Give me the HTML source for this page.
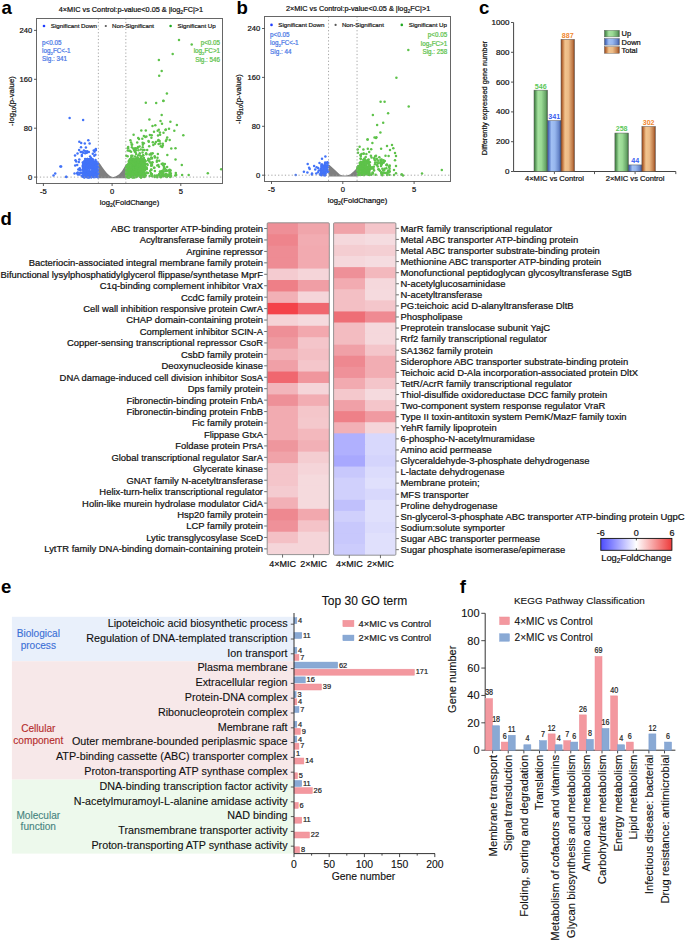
<!DOCTYPE html>
<html><head><meta charset="utf-8"><style>
html,body{margin:0;padding:0;background:#fff;}
body{width:685px;height:941px;overflow:hidden;}
svg{display:block;font-family:"Liberation Sans", sans-serif;}
</style></head><body>
<svg width="685" height="941" viewBox="0 0 685 941">
<rect width="685" height="941" fill="#fff"/>
<text x="1.50" y="13.60" font-size="18.6" fill="#000"  text-anchor="start" font-weight="bold" >a</text>
<text x="236.50" y="13.60" font-size="18.6" fill="#000"  text-anchor="start" font-weight="bold" >b</text>
<text x="479.00" y="13.60" font-size="18.6" fill="#000"  text-anchor="start" font-weight="bold" >c</text>
<text x="0.50" y="224.50" font-size="18.6" fill="#000"  text-anchor="start" font-weight="bold" >d</text>
<text x="1.00" y="592.50" font-size="18.6" fill="#000"  text-anchor="start" font-weight="bold" >e</text>
<text x="459.80" y="592.70" font-size="18.6" fill="#000"  text-anchor="start" font-weight="bold" >f</text>
<clipPath id="ca"><rect x="36.5" y="18.5" width="186.0" height="165.0"/></clipPath>
<g clip-path="url(#ca)">
<path d="M98.2,178.2 L98.2,161.6 L100.2,164.0 L102.4,167.2 L104.6,170.3 L107,173.2 L109.5,175.6 L112.3,177.2 L115.5,176.4 L119.2,174.2 L122,171.0 L124.7,166.6 L126.3,163.4 L126.3,178.2 Z" fill="#7f7f7f"/>
<g fill="#7f7f7f">
</g>
<g fill="#4273f8">
<circle cx="87.6" cy="170.9" r="1.25"/>
<circle cx="83.6" cy="167.8" r="1.25"/>
<circle cx="83.4" cy="162.9" r="1.25"/>
<circle cx="89.3" cy="159.6" r="1.25"/>
<circle cx="89.2" cy="161.9" r="1.25"/>
<circle cx="86.0" cy="176.7" r="1.25"/>
<circle cx="91.6" cy="177.1" r="1.25"/>
<circle cx="83.2" cy="167.5" r="1.25"/>
<circle cx="84.8" cy="165.5" r="1.25"/>
<circle cx="95.3" cy="170.1" r="1.25"/>
<circle cx="92.5" cy="169.1" r="1.25"/>
<circle cx="83.5" cy="164.5" r="1.25"/>
<circle cx="93.2" cy="164.9" r="1.25"/>
<circle cx="91.7" cy="164.4" r="1.25"/>
<circle cx="95.0" cy="164.8" r="1.25"/>
<circle cx="91.5" cy="175.3" r="1.25"/>
<circle cx="94.0" cy="177.2" r="1.25"/>
<circle cx="84.4" cy="173.6" r="1.25"/>
<circle cx="84.9" cy="161.6" r="1.25"/>
<circle cx="93.0" cy="170.0" r="1.25"/>
<circle cx="96.2" cy="172.4" r="1.25"/>
<circle cx="91.8" cy="167.5" r="1.25"/>
<circle cx="95.7" cy="169.3" r="1.25"/>
<circle cx="92.9" cy="171.8" r="1.25"/>
<circle cx="92.7" cy="174.5" r="1.25"/>
<circle cx="87.0" cy="171.6" r="1.25"/>
<circle cx="82.9" cy="165.3" r="1.25"/>
<circle cx="84.3" cy="173.6" r="1.25"/>
<circle cx="84.5" cy="167.3" r="1.25"/>
<circle cx="96.2" cy="167.9" r="1.25"/>
<circle cx="91.1" cy="174.4" r="1.25"/>
<circle cx="96.1" cy="167.5" r="1.25"/>
<circle cx="88.1" cy="176.9" r="1.25"/>
<circle cx="84.9" cy="164.2" r="1.25"/>
<circle cx="86.2" cy="170.4" r="1.25"/>
<circle cx="86.6" cy="166.5" r="1.25"/>
<circle cx="88.3" cy="176.7" r="1.25"/>
<circle cx="93.3" cy="170.6" r="1.25"/>
<circle cx="93.1" cy="175.6" r="1.25"/>
<circle cx="94.7" cy="174.2" r="1.25"/>
<circle cx="88.7" cy="160.7" r="1.25"/>
<circle cx="92.5" cy="159.3" r="1.25"/>
<circle cx="85.8" cy="165.6" r="1.25"/>
<circle cx="83.3" cy="163.6" r="1.25"/>
<circle cx="84.1" cy="161.7" r="1.25"/>
<circle cx="96.2" cy="163.8" r="1.25"/>
<circle cx="86.5" cy="166.1" r="1.25"/>
<circle cx="84.4" cy="177.5" r="1.25"/>
<circle cx="89.8" cy="160.4" r="1.25"/>
<circle cx="84.1" cy="165.6" r="1.25"/>
<circle cx="95.5" cy="160.1" r="1.25"/>
<circle cx="97.4" cy="164.5" r="1.25"/>
<circle cx="91.0" cy="168.2" r="1.25"/>
<circle cx="97.9" cy="173.3" r="1.25"/>
<circle cx="86.6" cy="162.5" r="1.25"/>
<circle cx="94.6" cy="173.7" r="1.25"/>
<circle cx="87.7" cy="174.0" r="1.25"/>
<circle cx="98.0" cy="174.9" r="1.25"/>
<circle cx="95.3" cy="164.8" r="1.25"/>
<circle cx="90.6" cy="158.9" r="1.25"/>
<circle cx="82.9" cy="166.2" r="1.25"/>
<circle cx="93.4" cy="168.1" r="1.25"/>
<circle cx="97.2" cy="176.9" r="1.25"/>
<circle cx="88.2" cy="162.8" r="1.25"/>
<circle cx="85.6" cy="170.9" r="1.25"/>
<circle cx="96.6" cy="169.6" r="1.25"/>
<circle cx="92.8" cy="161.4" r="1.25"/>
<circle cx="92.9" cy="173.8" r="1.25"/>
<circle cx="94.3" cy="162.9" r="1.25"/>
<circle cx="94.9" cy="174.0" r="1.25"/>
<circle cx="97.8" cy="168.4" r="1.25"/>
<circle cx="97.4" cy="165.2" r="1.25"/>
<circle cx="84.5" cy="176.0" r="1.25"/>
<circle cx="95.2" cy="174.4" r="1.25"/>
<circle cx="97.9" cy="168.1" r="1.25"/>
<circle cx="91.1" cy="158.1" r="1.25"/>
<circle cx="97.7" cy="170.6" r="1.25"/>
<circle cx="97.2" cy="175.6" r="1.25"/>
<circle cx="95.5" cy="164.3" r="1.25"/>
<circle cx="87.1" cy="169.9" r="1.25"/>
<circle cx="86.6" cy="162.0" r="1.25"/>
<circle cx="96.8" cy="168.7" r="1.25"/>
<circle cx="91.7" cy="167.3" r="1.25"/>
<circle cx="96.9" cy="170.1" r="1.25"/>
<circle cx="90.7" cy="166.4" r="1.25"/>
<circle cx="85.4" cy="173.9" r="1.25"/>
<circle cx="85.2" cy="172.9" r="1.25"/>
<circle cx="91.2" cy="168.3" r="1.25"/>
<circle cx="91.2" cy="161.4" r="1.25"/>
<circle cx="91.3" cy="163.5" r="1.25"/>
<circle cx="94.6" cy="169.9" r="1.25"/>
<circle cx="94.4" cy="168.3" r="1.25"/>
<circle cx="92.1" cy="168.5" r="1.25"/>
<circle cx="93.4" cy="169.0" r="1.25"/>
<circle cx="90.0" cy="172.3" r="1.25"/>
<circle cx="96.3" cy="166.2" r="1.25"/>
<circle cx="91.3" cy="174.8" r="1.25"/>
<circle cx="84.7" cy="167.9" r="1.25"/>
<circle cx="83.6" cy="162.6" r="1.25"/>
<circle cx="93.0" cy="175.8" r="1.25"/>
<circle cx="84.9" cy="172.1" r="1.25"/>
<circle cx="84.7" cy="177.1" r="1.25"/>
<circle cx="85.9" cy="167.8" r="1.25"/>
<circle cx="90.1" cy="174.6" r="1.25"/>
<circle cx="85.0" cy="169.4" r="1.25"/>
<circle cx="87.8" cy="164.6" r="1.25"/>
<circle cx="93.8" cy="169.0" r="1.25"/>
<circle cx="89.4" cy="164.2" r="1.25"/>
<circle cx="92.3" cy="160.2" r="1.25"/>
<circle cx="98.0" cy="177.2" r="1.25"/>
<circle cx="84.1" cy="161.7" r="1.25"/>
<circle cx="94.7" cy="161.8" r="1.25"/>
<circle cx="89.1" cy="174.4" r="1.25"/>
<circle cx="86.6" cy="176.1" r="1.25"/>
<circle cx="91.5" cy="161.0" r="1.25"/>
<circle cx="83.4" cy="169.1" r="1.25"/>
<circle cx="83.6" cy="172.3" r="1.25"/>
<circle cx="95.1" cy="175.0" r="1.25"/>
<circle cx="83.5" cy="169.7" r="1.25"/>
<circle cx="87.8" cy="176.3" r="1.25"/>
<circle cx="86.7" cy="168.7" r="1.25"/>
<circle cx="86.2" cy="162.0" r="1.25"/>
<circle cx="83.3" cy="166.6" r="1.25"/>
<circle cx="87.3" cy="165.2" r="1.25"/>
<circle cx="90.4" cy="164.8" r="1.25"/>
<circle cx="82.8" cy="162.5" r="1.25"/>
<circle cx="94.0" cy="163.1" r="1.25"/>
<circle cx="90.0" cy="161.7" r="1.25"/>
<circle cx="95.4" cy="168.8" r="1.25"/>
<circle cx="95.6" cy="169.1" r="1.25"/>
<circle cx="93.3" cy="166.4" r="1.25"/>
<circle cx="95.6" cy="171.6" r="1.25"/>
<circle cx="88.9" cy="159.6" r="1.25"/>
<circle cx="84.5" cy="173.1" r="1.25"/>
<circle cx="86.5" cy="160.6" r="1.25"/>
<circle cx="95.7" cy="172.3" r="1.25"/>
<circle cx="86.9" cy="164.5" r="1.25"/>
<circle cx="89.7" cy="166.7" r="1.25"/>
<circle cx="86.6" cy="177.1" r="1.25"/>
<circle cx="91.1" cy="176.9" r="1.25"/>
<circle cx="87.4" cy="159.1" r="1.25"/>
<circle cx="88.5" cy="168.3" r="1.25"/>
<circle cx="85.7" cy="160.5" r="1.25"/>
<circle cx="86.6" cy="166.3" r="1.25"/>
<circle cx="83.2" cy="166.3" r="1.25"/>
<circle cx="86.2" cy="169.5" r="1.25"/>
<circle cx="94.3" cy="172.6" r="1.25"/>
<circle cx="96.3" cy="166.3" r="1.25"/>
<circle cx="98.0" cy="173.2" r="1.25"/>
<circle cx="92.6" cy="174.4" r="1.25"/>
<circle cx="96.5" cy="173.3" r="1.25"/>
<circle cx="95.3" cy="168.9" r="1.25"/>
<circle cx="90.4" cy="174.1" r="1.25"/>
<circle cx="95.5" cy="175.8" r="1.25"/>
<circle cx="93.2" cy="163.9" r="1.25"/>
<circle cx="83.0" cy="167.5" r="1.25"/>
<circle cx="84.1" cy="170.9" r="1.25"/>
<circle cx="92.4" cy="171.8" r="1.25"/>
<circle cx="90.2" cy="173.5" r="1.25"/>
<circle cx="94.2" cy="169.3" r="1.25"/>
<circle cx="92.9" cy="172.5" r="1.25"/>
<circle cx="86.5" cy="163.8" r="1.25"/>
<circle cx="94.0" cy="172.7" r="1.25"/>
<circle cx="97.8" cy="168.3" r="1.25"/>
<circle cx="90.0" cy="173.3" r="1.25"/>
<circle cx="92.2" cy="160.7" r="1.25"/>
<circle cx="84.8" cy="173.2" r="1.25"/>
<circle cx="87.3" cy="159.9" r="1.25"/>
<circle cx="83.5" cy="172.4" r="1.25"/>
<circle cx="93.4" cy="165.0" r="1.25"/>
<circle cx="90.6" cy="167.5" r="1.25"/>
<circle cx="84.4" cy="165.4" r="1.25"/>
<circle cx="97.9" cy="163.9" r="1.25"/>
<circle cx="89.7" cy="177.0" r="1.25"/>
<circle cx="89.6" cy="162.3" r="1.25"/>
<circle cx="97.3" cy="170.8" r="1.25"/>
<circle cx="84.7" cy="176.8" r="1.25"/>
<circle cx="84.6" cy="169.9" r="1.25"/>
<circle cx="96.4" cy="165.4" r="1.25"/>
<circle cx="96.6" cy="161.7" r="1.25"/>
<circle cx="82.6" cy="169.7" r="1.25"/>
<circle cx="87.2" cy="165.1" r="1.25"/>
<circle cx="87.5" cy="160.3" r="1.25"/>
<circle cx="94.3" cy="162.6" r="1.25"/>
<circle cx="97.0" cy="176.1" r="1.25"/>
<circle cx="87.1" cy="166.5" r="1.25"/>
<circle cx="98.2" cy="168.3" r="1.25"/>
<circle cx="89.2" cy="159.2" r="1.25"/>
<circle cx="84.1" cy="166.8" r="1.25"/>
<circle cx="97.2" cy="165.6" r="1.25"/>
<circle cx="90.5" cy="165.3" r="1.25"/>
<circle cx="97.5" cy="174.9" r="1.25"/>
<circle cx="92.4" cy="176.6" r="1.25"/>
<circle cx="91.1" cy="160.2" r="1.25"/>
<circle cx="94.0" cy="173.1" r="1.25"/>
<circle cx="92.6" cy="159.5" r="1.25"/>
<circle cx="97.1" cy="168.8" r="1.25"/>
<circle cx="87.9" cy="172.7" r="1.25"/>
<circle cx="97.8" cy="172.2" r="1.25"/>
<circle cx="87.2" cy="166.7" r="1.25"/>
<circle cx="85.1" cy="163.6" r="1.25"/>
<circle cx="96.7" cy="165.0" r="1.25"/>
<circle cx="96.7" cy="169.4" r="1.25"/>
<circle cx="84.7" cy="161.9" r="1.25"/>
<circle cx="87.9" cy="162.9" r="1.25"/>
<circle cx="86.6" cy="175.6" r="1.25"/>
<circle cx="94.3" cy="167.0" r="1.25"/>
<circle cx="90.7" cy="164.9" r="1.25"/>
<circle cx="83.5" cy="177.1" r="1.25"/>
<circle cx="84.5" cy="171.6" r="1.25"/>
<circle cx="96.0" cy="164.9" r="1.25"/>
<circle cx="86.4" cy="167.7" r="1.25"/>
<circle cx="97.5" cy="175.7" r="1.25"/>
<circle cx="82.8" cy="173.0" r="1.25"/>
<circle cx="96.6" cy="170.9" r="1.25"/>
<circle cx="82.5" cy="176.5" r="1.25"/>
<circle cx="95.5" cy="177.1" r="1.25"/>
<circle cx="86.4" cy="161.8" r="1.25"/>
<circle cx="90.7" cy="176.5" r="1.25"/>
<circle cx="93.8" cy="173.4" r="1.25"/>
<circle cx="89.7" cy="159.7" r="1.25"/>
<circle cx="94.8" cy="176.1" r="1.25"/>
<circle cx="92.6" cy="161.0" r="1.25"/>
<circle cx="86.5" cy="172.4" r="1.25"/>
<circle cx="84.3" cy="169.4" r="1.25"/>
<circle cx="91.7" cy="162.8" r="1.25"/>
<circle cx="91.9" cy="163.7" r="1.25"/>
<circle cx="89.7" cy="171.3" r="1.25"/>
<circle cx="96.4" cy="165.0" r="1.25"/>
<circle cx="86.4" cy="172.7" r="1.25"/>
<circle cx="87.3" cy="167.9" r="1.25"/>
<circle cx="93.1" cy="163.8" r="1.25"/>
<circle cx="93.0" cy="164.2" r="1.25"/>
<circle cx="83.0" cy="168.7" r="1.25"/>
<circle cx="93.2" cy="173.7" r="1.25"/>
<circle cx="94.1" cy="163.4" r="1.25"/>
<circle cx="97.7" cy="174.8" r="1.25"/>
<circle cx="86.1" cy="173.2" r="1.25"/>
<circle cx="87.1" cy="169.1" r="1.25"/>
<circle cx="85.4" cy="167.3" r="1.25"/>
<circle cx="92.9" cy="162.8" r="1.25"/>
<circle cx="88.7" cy="177.1" r="1.25"/>
<circle cx="84.7" cy="161.0" r="1.25"/>
<circle cx="88.7" cy="175.5" r="1.25"/>
<circle cx="94.0" cy="176.5" r="1.25"/>
<circle cx="87.7" cy="176.4" r="1.25"/>
<circle cx="94.2" cy="171.2" r="1.25"/>
<circle cx="88.4" cy="165.0" r="1.25"/>
<circle cx="85.2" cy="164.6" r="1.25"/>
<circle cx="88.0" cy="162.5" r="1.25"/>
<circle cx="97.6" cy="167.3" r="1.25"/>
<circle cx="95.4" cy="168.3" r="1.25"/>
<circle cx="83.3" cy="168.0" r="1.25"/>
<circle cx="96.9" cy="167.0" r="1.25"/>
<circle cx="96.6" cy="167.3" r="1.25"/>
<circle cx="95.2" cy="161.7" r="1.25"/>
<circle cx="83.0" cy="176.3" r="1.25"/>
<circle cx="86.5" cy="175.9" r="1.25"/>
<circle cx="87.8" cy="176.8" r="1.25"/>
<circle cx="92.2" cy="172.1" r="1.25"/>
<circle cx="87.5" cy="158.9" r="1.25"/>
<circle cx="94.4" cy="171.5" r="1.25"/>
<circle cx="97.3" cy="164.7" r="1.25"/>
<circle cx="90.0" cy="176.8" r="1.25"/>
<circle cx="88.6" cy="166.6" r="1.25"/>
<circle cx="90.2" cy="163.1" r="1.25"/>
<circle cx="95.1" cy="174.6" r="1.25"/>
<circle cx="94.6" cy="165.9" r="1.25"/>
<circle cx="87.5" cy="173.6" r="1.25"/>
<circle cx="83.7" cy="173.5" r="1.25"/>
<circle cx="86.4" cy="159.5" r="1.25"/>
<circle cx="91.2" cy="177.2" r="1.25"/>
<circle cx="96.4" cy="166.4" r="1.25"/>
<circle cx="83.8" cy="169.2" r="1.25"/>
<circle cx="93.6" cy="163.6" r="1.25"/>
<circle cx="89.0" cy="171.6" r="1.25"/>
<circle cx="94.2" cy="171.9" r="1.25"/>
<circle cx="84.4" cy="166.7" r="1.25"/>
<circle cx="91.4" cy="172.6" r="1.25"/>
<circle cx="85.6" cy="164.2" r="1.25"/>
<circle cx="84.9" cy="171.0" r="1.25"/>
<circle cx="87.6" cy="177.5" r="1.25"/>
<circle cx="90.5" cy="173.9" r="1.25"/>
<circle cx="92.8" cy="162.1" r="1.25"/>
<circle cx="90.0" cy="174.7" r="1.25"/>
<circle cx="96.9" cy="165.5" r="1.25"/>
<circle cx="84.4" cy="177.1" r="1.25"/>
<circle cx="91.7" cy="166.5" r="1.25"/>
<circle cx="96.1" cy="165.2" r="1.25"/>
<circle cx="94.7" cy="162.9" r="1.25"/>
<circle cx="91.9" cy="163.2" r="1.25"/>
<circle cx="88.3" cy="162.2" r="1.25"/>
<circle cx="86.5" cy="171.5" r="1.25"/>
<circle cx="85.7" cy="165.2" r="1.25"/>
<circle cx="93.1" cy="164.4" r="1.25"/>
<circle cx="85.7" cy="170.1" r="1.25"/>
<circle cx="83.5" cy="167.7" r="1.25"/>
<circle cx="91.1" cy="160.8" r="1.25"/>
<circle cx="85.1" cy="168.0" r="1.25"/>
<circle cx="86.9" cy="176.7" r="1.25"/>
<circle cx="87.4" cy="166.0" r="1.25"/>
<circle cx="89.0" cy="177.5" r="1.25"/>
<circle cx="88.2" cy="172.4" r="1.25"/>
<circle cx="85.7" cy="175.8" r="1.25"/>
<circle cx="89.2" cy="167.0" r="1.25"/>
<circle cx="96.4" cy="163.8" r="1.25"/>
<circle cx="82.7" cy="172.4" r="1.25"/>
<circle cx="96.8" cy="171.1" r="1.25"/>
<circle cx="88.3" cy="161.8" r="1.25"/>
<circle cx="86.9" cy="176.3" r="1.25"/>
<circle cx="84.2" cy="174.5" r="1.25"/>
<circle cx="97.7" cy="163.6" r="1.25"/>
<circle cx="97.3" cy="170.1" r="1.25"/>
<circle cx="83.3" cy="168.9" r="1.25"/>
<circle cx="96.7" cy="174.8" r="1.25"/>
<circle cx="85.0" cy="165.1" r="1.25"/>
<circle cx="88.9" cy="174.6" r="1.25"/>
<circle cx="85.4" cy="167.0" r="1.25"/>
<circle cx="90.6" cy="160.8" r="1.25"/>
<circle cx="86.4" cy="175.8" r="1.25"/>
<circle cx="83.1" cy="174.0" r="1.25"/>
<circle cx="83.1" cy="165.1" r="1.25"/>
<circle cx="91.9" cy="170.7" r="1.25"/>
<circle cx="87.3" cy="169.9" r="1.25"/>
<circle cx="89.2" cy="167.5" r="1.25"/>
<circle cx="89.4" cy="170.0" r="1.25"/>
<circle cx="90.2" cy="173.0" r="1.25"/>
<circle cx="94.7" cy="163.1" r="1.25"/>
<circle cx="89.9" cy="160.3" r="1.25"/>
<circle cx="89.3" cy="166.6" r="1.25"/>
<circle cx="86.8" cy="175.9" r="1.25"/>
<circle cx="84.0" cy="174.8" r="1.25"/>
<circle cx="81.9" cy="156.0" r="1.25"/>
<circle cx="86.7" cy="175.5" r="1.25"/>
<circle cx="86.9" cy="166.8" r="1.25"/>
<circle cx="77.1" cy="173.3" r="1.25"/>
<circle cx="79.1" cy="150.1" r="1.25"/>
<circle cx="81.9" cy="155.0" r="1.25"/>
<circle cx="93.7" cy="150.5" r="1.25"/>
<circle cx="87.2" cy="151.2" r="1.25"/>
<circle cx="77.8" cy="172.5" r="1.25"/>
<circle cx="80.7" cy="151.9" r="1.25"/>
<circle cx="96.6" cy="167.5" r="1.25"/>
<circle cx="81.4" cy="172.7" r="1.25"/>
<circle cx="78.3" cy="169.6" r="1.25"/>
<circle cx="80.1" cy="173.1" r="1.25"/>
<circle cx="87.0" cy="152.2" r="1.25"/>
<circle cx="93.4" cy="169.9" r="1.25"/>
<circle cx="86.9" cy="168.4" r="1.25"/>
<circle cx="97.2" cy="172.1" r="1.25"/>
<circle cx="94.5" cy="151.7" r="1.25"/>
<circle cx="83.0" cy="152.8" r="1.25"/>
<circle cx="94.3" cy="155.8" r="1.25"/>
<circle cx="95.5" cy="162.7" r="1.25"/>
<circle cx="84.0" cy="167.3" r="1.25"/>
<circle cx="78.8" cy="162.0" r="1.25"/>
<circle cx="85.2" cy="153.2" r="1.25"/>
<circle cx="95.7" cy="150.2" r="1.25"/>
<circle cx="84.1" cy="166.4" r="1.25"/>
<circle cx="80.5" cy="169.9" r="1.25"/>
<circle cx="76.2" cy="161.4" r="1.25"/>
<circle cx="90.1" cy="156.4" r="1.25"/>
<circle cx="88.3" cy="172.2" r="1.25"/>
<circle cx="81.6" cy="175.7" r="1.25"/>
<circle cx="80.0" cy="170.2" r="1.25"/>
<circle cx="83.9" cy="150.4" r="1.25"/>
<circle cx="85.1" cy="159.1" r="1.25"/>
<circle cx="91.1" cy="177.0" r="1.25"/>
<circle cx="97.3" cy="173.0" r="1.25"/>
<circle cx="84.4" cy="165.3" r="1.25"/>
<circle cx="86.7" cy="152.8" r="1.25"/>
<circle cx="95.1" cy="170.9" r="1.25"/>
<circle cx="83.6" cy="176.4" r="1.25"/>
<circle cx="97.9" cy="167.4" r="1.25"/>
<circle cx="95.7" cy="167.4" r="1.25"/>
<circle cx="88.3" cy="140.2" r="1.25"/>
<circle cx="79.3" cy="141.8" r="1.25"/>
<circle cx="81.2" cy="143.1" r="1.25"/>
<circle cx="84.8" cy="143.4" r="1.25"/>
<circle cx="89.6" cy="143.5" r="1.25"/>
<circle cx="81.0" cy="147.3" r="1.25"/>
<circle cx="85.9" cy="147.5" r="1.25"/>
<circle cx="95.8" cy="149.1" r="1.25"/>
<circle cx="95.4" cy="149.9" r="1.25"/>
<circle cx="77.5" cy="153.4" r="1.25"/>
<circle cx="75.0" cy="155.4" r="1.25"/>
<circle cx="75.5" cy="160.3" r="1.25"/>
<circle cx="79.3" cy="159.6" r="1.25"/>
<circle cx="75.2" cy="165.6" r="1.25"/>
<circle cx="77.2" cy="165.0" r="1.25"/>
<circle cx="61.1" cy="166.5" r="1.25"/>
<circle cx="74.5" cy="173.6" r="1.25"/>
<circle cx="77.9" cy="174.5" r="1.25"/>
<circle cx="79.3" cy="174.5" r="1.25"/>
<circle cx="66.4" cy="177.1" r="1.25"/>
<circle cx="79.7" cy="168.3" r="1.25"/>
<circle cx="81.9" cy="151.9" r="1.25"/>
<circle cx="85.5" cy="151.2" r="1.25"/>
<circle cx="88.8" cy="151.9" r="1.25"/>
<circle cx="92.8" cy="153.7" r="1.25"/>
<circle cx="95.4" cy="154.8" r="1.25"/>
<circle cx="69.6" cy="118.0" r="1.25"/>
<circle cx="83.1" cy="119.9" r="1.25"/>
<circle cx="55.2" cy="173.4" r="1.25"/>
<circle cx="60.4" cy="166.6" r="1.25"/>
<circle cx="66.2" cy="176.8" r="1.25"/>
<circle cx="53.5" cy="175.5" r="1.25"/>
</g>
<g fill="#5ec24a">
<circle cx="130.4" cy="170.6" r="1.25"/>
<circle cx="130.0" cy="169.0" r="1.25"/>
<circle cx="128.6" cy="167.1" r="1.25"/>
<circle cx="128.9" cy="171.4" r="1.25"/>
<circle cx="143.0" cy="166.7" r="1.25"/>
<circle cx="131.2" cy="170.6" r="1.25"/>
<circle cx="137.0" cy="170.0" r="1.25"/>
<circle cx="134.7" cy="172.6" r="1.25"/>
<circle cx="130.8" cy="162.1" r="1.25"/>
<circle cx="136.4" cy="161.6" r="1.25"/>
<circle cx="127.1" cy="165.3" r="1.25"/>
<circle cx="136.7" cy="161.1" r="1.25"/>
<circle cx="129.9" cy="169.5" r="1.25"/>
<circle cx="138.5" cy="161.3" r="1.25"/>
<circle cx="132.0" cy="159.2" r="1.25"/>
<circle cx="143.3" cy="172.5" r="1.25"/>
<circle cx="126.1" cy="174.8" r="1.25"/>
<circle cx="135.1" cy="166.9" r="1.25"/>
<circle cx="130.4" cy="163.3" r="1.25"/>
<circle cx="126.8" cy="174.2" r="1.25"/>
<circle cx="139.6" cy="172.0" r="1.25"/>
<circle cx="131.2" cy="167.6" r="1.25"/>
<circle cx="141.4" cy="162.9" r="1.25"/>
<circle cx="138.5" cy="162.6" r="1.25"/>
<circle cx="143.2" cy="162.2" r="1.25"/>
<circle cx="130.6" cy="176.7" r="1.25"/>
<circle cx="140.5" cy="175.1" r="1.25"/>
<circle cx="132.4" cy="175.8" r="1.25"/>
<circle cx="138.3" cy="170.8" r="1.25"/>
<circle cx="145.1" cy="174.7" r="1.25"/>
<circle cx="139.6" cy="166.7" r="1.25"/>
<circle cx="140.1" cy="163.5" r="1.25"/>
<circle cx="130.1" cy="162.3" r="1.25"/>
<circle cx="143.8" cy="158.1" r="1.25"/>
<circle cx="128.1" cy="169.0" r="1.25"/>
<circle cx="128.8" cy="161.1" r="1.25"/>
<circle cx="139.5" cy="171.5" r="1.25"/>
<circle cx="140.4" cy="168.6" r="1.25"/>
<circle cx="133.1" cy="174.3" r="1.25"/>
<circle cx="143.4" cy="174.9" r="1.25"/>
<circle cx="143.8" cy="162.3" r="1.25"/>
<circle cx="130.0" cy="160.0" r="1.25"/>
<circle cx="142.5" cy="170.8" r="1.25"/>
<circle cx="142.1" cy="163.8" r="1.25"/>
<circle cx="127.9" cy="173.7" r="1.25"/>
<circle cx="130.0" cy="167.5" r="1.25"/>
<circle cx="126.4" cy="168.1" r="1.25"/>
<circle cx="140.0" cy="163.3" r="1.25"/>
<circle cx="144.8" cy="174.9" r="1.25"/>
<circle cx="138.1" cy="164.4" r="1.25"/>
<circle cx="134.5" cy="165.1" r="1.25"/>
<circle cx="139.7" cy="161.5" r="1.25"/>
<circle cx="142.8" cy="173.8" r="1.25"/>
<circle cx="129.3" cy="163.3" r="1.25"/>
<circle cx="140.9" cy="159.0" r="1.25"/>
<circle cx="135.6" cy="173.4" r="1.25"/>
<circle cx="129.6" cy="166.9" r="1.25"/>
<circle cx="142.2" cy="176.4" r="1.25"/>
<circle cx="131.5" cy="171.8" r="1.25"/>
<circle cx="135.7" cy="169.6" r="1.25"/>
<circle cx="127.6" cy="173.6" r="1.25"/>
<circle cx="141.3" cy="164.9" r="1.25"/>
<circle cx="133.8" cy="175.4" r="1.25"/>
<circle cx="127.7" cy="165.1" r="1.25"/>
<circle cx="130.0" cy="175.9" r="1.25"/>
<circle cx="135.8" cy="175.2" r="1.25"/>
<circle cx="130.6" cy="169.4" r="1.25"/>
<circle cx="140.7" cy="170.7" r="1.25"/>
<circle cx="132.8" cy="160.9" r="1.25"/>
<circle cx="142.4" cy="172.7" r="1.25"/>
<circle cx="129.3" cy="173.9" r="1.25"/>
<circle cx="137.3" cy="165.7" r="1.25"/>
<circle cx="143.3" cy="161.4" r="1.25"/>
<circle cx="131.9" cy="174.8" r="1.25"/>
<circle cx="129.0" cy="164.8" r="1.25"/>
<circle cx="132.4" cy="161.8" r="1.25"/>
<circle cx="132.4" cy="177.1" r="1.25"/>
<circle cx="140.2" cy="176.8" r="1.25"/>
<circle cx="128.0" cy="177.4" r="1.25"/>
<circle cx="141.5" cy="166.7" r="1.25"/>
<circle cx="129.8" cy="163.1" r="1.25"/>
<circle cx="130.0" cy="160.9" r="1.25"/>
<circle cx="133.8" cy="171.9" r="1.25"/>
<circle cx="135.8" cy="166.8" r="1.25"/>
<circle cx="128.8" cy="168.6" r="1.25"/>
<circle cx="140.4" cy="166.7" r="1.25"/>
<circle cx="137.2" cy="166.1" r="1.25"/>
<circle cx="130.5" cy="175.6" r="1.25"/>
<circle cx="141.1" cy="174.7" r="1.25"/>
<circle cx="139.3" cy="166.5" r="1.25"/>
<circle cx="132.1" cy="161.2" r="1.25"/>
<circle cx="134.2" cy="172.2" r="1.25"/>
<circle cx="138.3" cy="165.1" r="1.25"/>
<circle cx="134.9" cy="165.9" r="1.25"/>
<circle cx="139.2" cy="161.9" r="1.25"/>
<circle cx="138.8" cy="165.5" r="1.25"/>
<circle cx="135.6" cy="159.5" r="1.25"/>
<circle cx="136.6" cy="172.8" r="1.25"/>
<circle cx="144.3" cy="161.2" r="1.25"/>
<circle cx="137.2" cy="171.8" r="1.25"/>
<circle cx="136.0" cy="174.2" r="1.25"/>
<circle cx="136.2" cy="176.5" r="1.25"/>
<circle cx="130.1" cy="167.7" r="1.25"/>
<circle cx="140.9" cy="177.3" r="1.25"/>
<circle cx="132.9" cy="162.5" r="1.25"/>
<circle cx="133.8" cy="165.1" r="1.25"/>
<circle cx="134.2" cy="165.1" r="1.25"/>
<circle cx="131.2" cy="172.7" r="1.25"/>
<circle cx="144.3" cy="163.3" r="1.25"/>
<circle cx="141.6" cy="161.5" r="1.25"/>
<circle cx="128.5" cy="174.9" r="1.25"/>
<circle cx="138.4" cy="168.4" r="1.25"/>
<circle cx="130.4" cy="167.5" r="1.25"/>
<circle cx="138.5" cy="174.0" r="1.25"/>
<circle cx="135.1" cy="168.1" r="1.25"/>
<circle cx="128.4" cy="168.6" r="1.25"/>
<circle cx="142.6" cy="164.9" r="1.25"/>
<circle cx="130.9" cy="162.9" r="1.25"/>
<circle cx="126.1" cy="169.6" r="1.25"/>
<circle cx="130.8" cy="168.1" r="1.25"/>
<circle cx="134.4" cy="170.9" r="1.25"/>
<circle cx="133.1" cy="175.0" r="1.25"/>
<circle cx="127.1" cy="176.4" r="1.25"/>
<circle cx="141.3" cy="174.0" r="1.25"/>
<circle cx="138.3" cy="155.3" r="1.25"/>
<circle cx="144.6" cy="164.4" r="1.25"/>
<circle cx="128.0" cy="165.5" r="1.25"/>
<circle cx="141.1" cy="160.0" r="1.25"/>
<circle cx="143.6" cy="162.7" r="1.25"/>
<circle cx="143.4" cy="173.5" r="1.25"/>
<circle cx="139.0" cy="173.5" r="1.25"/>
<circle cx="142.4" cy="171.2" r="1.25"/>
<circle cx="136.4" cy="166.5" r="1.25"/>
<circle cx="143.2" cy="163.7" r="1.25"/>
<circle cx="130.6" cy="168.1" r="1.25"/>
<circle cx="127.1" cy="166.0" r="1.25"/>
<circle cx="135.6" cy="168.2" r="1.25"/>
<circle cx="142.8" cy="174.2" r="1.25"/>
<circle cx="135.1" cy="170.9" r="1.25"/>
<circle cx="142.4" cy="165.9" r="1.25"/>
<circle cx="144.7" cy="170.5" r="1.25"/>
<circle cx="138.4" cy="168.8" r="1.25"/>
<circle cx="139.3" cy="164.7" r="1.25"/>
<circle cx="145.1" cy="168.5" r="1.25"/>
<circle cx="143.5" cy="171.8" r="1.25"/>
<circle cx="138.2" cy="174.6" r="1.25"/>
<circle cx="133.1" cy="168.4" r="1.25"/>
<circle cx="141.0" cy="165.6" r="1.25"/>
<circle cx="134.2" cy="174.2" r="1.25"/>
<circle cx="131.7" cy="167.3" r="1.25"/>
<circle cx="135.8" cy="167.1" r="1.25"/>
<circle cx="145.0" cy="174.0" r="1.25"/>
<circle cx="132.5" cy="163.9" r="1.25"/>
<circle cx="137.4" cy="173.2" r="1.25"/>
<circle cx="126.8" cy="176.2" r="1.25"/>
<circle cx="136.6" cy="162.0" r="1.25"/>
<circle cx="126.1" cy="176.6" r="1.25"/>
<circle cx="137.9" cy="173.3" r="1.25"/>
<circle cx="143.7" cy="170.5" r="1.25"/>
<circle cx="138.2" cy="169.5" r="1.25"/>
<circle cx="139.3" cy="170.4" r="1.25"/>
<circle cx="134.9" cy="160.2" r="1.25"/>
<circle cx="129.5" cy="173.5" r="1.25"/>
<circle cx="143.8" cy="166.1" r="1.25"/>
<circle cx="142.0" cy="169.4" r="1.25"/>
<circle cx="131.0" cy="166.9" r="1.25"/>
<circle cx="132.2" cy="170.8" r="1.25"/>
<circle cx="144.2" cy="169.0" r="1.25"/>
<circle cx="126.8" cy="174.9" r="1.25"/>
<circle cx="137.2" cy="166.9" r="1.25"/>
<circle cx="126.3" cy="172.4" r="1.25"/>
<circle cx="144.3" cy="168.8" r="1.25"/>
<circle cx="134.0" cy="170.0" r="1.25"/>
<circle cx="130.1" cy="159.7" r="1.25"/>
<circle cx="126.1" cy="167.6" r="1.25"/>
<circle cx="144.8" cy="175.1" r="1.25"/>
<circle cx="128.5" cy="172.9" r="1.25"/>
<circle cx="130.7" cy="164.0" r="1.25"/>
<circle cx="127.0" cy="174.1" r="1.25"/>
<circle cx="142.7" cy="160.5" r="1.25"/>
<circle cx="138.3" cy="166.8" r="1.25"/>
<circle cx="144.2" cy="176.9" r="1.25"/>
<circle cx="140.0" cy="155.6" r="1.25"/>
<circle cx="138.7" cy="159.5" r="1.25"/>
<circle cx="132.1" cy="162.7" r="1.25"/>
<circle cx="142.8" cy="159.3" r="1.25"/>
<circle cx="133.2" cy="166.9" r="1.25"/>
<circle cx="139.2" cy="173.1" r="1.25"/>
<circle cx="133.1" cy="170.6" r="1.25"/>
<circle cx="134.2" cy="173.3" r="1.25"/>
<circle cx="144.4" cy="170.1" r="1.25"/>
<circle cx="131.7" cy="177.1" r="1.25"/>
<circle cx="139.7" cy="164.6" r="1.25"/>
<circle cx="137.8" cy="174.4" r="1.25"/>
<circle cx="137.7" cy="165.3" r="1.25"/>
<circle cx="143.3" cy="171.4" r="1.25"/>
<circle cx="137.7" cy="173.9" r="1.25"/>
<circle cx="131.5" cy="162.9" r="1.25"/>
<circle cx="134.2" cy="174.0" r="1.25"/>
<circle cx="143.3" cy="174.1" r="1.25"/>
<circle cx="141.8" cy="169.6" r="1.25"/>
<circle cx="131.3" cy="174.3" r="1.25"/>
<circle cx="139.4" cy="165.0" r="1.25"/>
<circle cx="127.7" cy="174.8" r="1.25"/>
<circle cx="129.9" cy="176.5" r="1.25"/>
<circle cx="130.6" cy="172.1" r="1.25"/>
<circle cx="135.1" cy="161.7" r="1.25"/>
<circle cx="140.6" cy="167.1" r="1.25"/>
<circle cx="127.7" cy="174.6" r="1.25"/>
<circle cx="130.5" cy="175.8" r="1.25"/>
<circle cx="143.3" cy="167.6" r="1.25"/>
<circle cx="137.5" cy="159.9" r="1.25"/>
<circle cx="129.5" cy="167.6" r="1.25"/>
<circle cx="137.0" cy="167.4" r="1.25"/>
<circle cx="128.9" cy="177.6" r="1.25"/>
<circle cx="133.3" cy="169.9" r="1.25"/>
<circle cx="141.4" cy="169.0" r="1.25"/>
<circle cx="132.7" cy="158.9" r="1.25"/>
<circle cx="126.7" cy="176.1" r="1.25"/>
<circle cx="135.5" cy="162.7" r="1.25"/>
<circle cx="141.2" cy="176.5" r="1.25"/>
<circle cx="141.0" cy="176.9" r="1.25"/>
<circle cx="131.0" cy="162.1" r="1.25"/>
<circle cx="129.5" cy="160.7" r="1.25"/>
<circle cx="136.9" cy="167.1" r="1.25"/>
<circle cx="144.5" cy="161.9" r="1.25"/>
<circle cx="137.7" cy="158.9" r="1.25"/>
<circle cx="144.7" cy="169.4" r="1.25"/>
<circle cx="138.5" cy="171.2" r="1.25"/>
<circle cx="133.7" cy="160.9" r="1.25"/>
<circle cx="144.8" cy="165.0" r="1.25"/>
<circle cx="126.8" cy="168.7" r="1.25"/>
<circle cx="143.6" cy="174.8" r="1.25"/>
<circle cx="126.9" cy="174.1" r="1.25"/>
<circle cx="138.6" cy="159.5" r="1.25"/>
<circle cx="128.8" cy="176.7" r="1.25"/>
<circle cx="139.2" cy="168.8" r="1.25"/>
<circle cx="140.8" cy="162.9" r="1.25"/>
<circle cx="131.0" cy="167.7" r="1.25"/>
<circle cx="129.3" cy="163.0" r="1.25"/>
<circle cx="139.2" cy="171.2" r="1.25"/>
<circle cx="129.8" cy="176.3" r="1.25"/>
<circle cx="130.3" cy="175.5" r="1.25"/>
<circle cx="143.3" cy="166.4" r="1.25"/>
<circle cx="127.9" cy="175.6" r="1.25"/>
<circle cx="138.3" cy="163.7" r="1.25"/>
<circle cx="142.0" cy="170.2" r="1.25"/>
<circle cx="128.8" cy="162.0" r="1.25"/>
<circle cx="139.9" cy="160.1" r="1.25"/>
<circle cx="143.0" cy="165.8" r="1.25"/>
<circle cx="129.0" cy="174.9" r="1.25"/>
<circle cx="132.5" cy="167.3" r="1.25"/>
<circle cx="132.2" cy="162.2" r="1.25"/>
<circle cx="145.1" cy="175.6" r="1.25"/>
<circle cx="139.0" cy="166.2" r="1.25"/>
<circle cx="131.6" cy="162.3" r="1.25"/>
<circle cx="133.1" cy="177.6" r="1.25"/>
<circle cx="144.0" cy="163.4" r="1.25"/>
<circle cx="143.5" cy="172.0" r="1.25"/>
<circle cx="131.7" cy="161.2" r="1.25"/>
<circle cx="141.7" cy="159.9" r="1.25"/>
<circle cx="126.0" cy="172.5" r="1.25"/>
<circle cx="129.6" cy="176.1" r="1.25"/>
<circle cx="130.3" cy="163.1" r="1.25"/>
<circle cx="129.5" cy="173.2" r="1.25"/>
<circle cx="129.8" cy="161.0" r="1.25"/>
<circle cx="137.9" cy="162.4" r="1.25"/>
<circle cx="130.0" cy="172.8" r="1.25"/>
<circle cx="141.8" cy="161.9" r="1.25"/>
<circle cx="127.3" cy="170.0" r="1.25"/>
<circle cx="140.1" cy="173.4" r="1.25"/>
<circle cx="132.5" cy="175.2" r="1.25"/>
<circle cx="135.6" cy="175.6" r="1.25"/>
<circle cx="135.3" cy="163.6" r="1.25"/>
<circle cx="129.6" cy="167.9" r="1.25"/>
<circle cx="129.2" cy="170.9" r="1.25"/>
<circle cx="126.1" cy="171.0" r="1.25"/>
<circle cx="136.1" cy="171.3" r="1.25"/>
<circle cx="141.9" cy="165.0" r="1.25"/>
<circle cx="139.9" cy="172.4" r="1.25"/>
<circle cx="127.2" cy="177.0" r="1.25"/>
<circle cx="135.6" cy="168.0" r="1.25"/>
<circle cx="136.5" cy="176.9" r="1.25"/>
<circle cx="130.4" cy="161.2" r="1.25"/>
<circle cx="130.9" cy="161.5" r="1.25"/>
<circle cx="127.9" cy="166.5" r="1.25"/>
<circle cx="126.3" cy="172.5" r="1.25"/>
<circle cx="136.2" cy="159.7" r="1.25"/>
<circle cx="143.0" cy="159.9" r="1.25"/>
<circle cx="128.4" cy="170.1" r="1.25"/>
<circle cx="131.5" cy="166.0" r="1.25"/>
<circle cx="128.7" cy="175.5" r="1.25"/>
<circle cx="128.9" cy="173.7" r="1.25"/>
<circle cx="129.2" cy="176.7" r="1.25"/>
<circle cx="133.6" cy="174.4" r="1.25"/>
<circle cx="136.2" cy="176.4" r="1.25"/>
<circle cx="141.1" cy="161.8" r="1.25"/>
<circle cx="132.5" cy="177.2" r="1.25"/>
<circle cx="141.7" cy="174.2" r="1.25"/>
<circle cx="142.5" cy="167.4" r="1.25"/>
<circle cx="144.7" cy="165.2" r="1.25"/>
<circle cx="134.2" cy="165.2" r="1.25"/>
<circle cx="136.4" cy="165.0" r="1.25"/>
<circle cx="135.8" cy="158.5" r="1.25"/>
<circle cx="144.9" cy="176.5" r="1.25"/>
<circle cx="138.3" cy="175.3" r="1.25"/>
<circle cx="143.3" cy="170.2" r="1.25"/>
<circle cx="131.2" cy="165.0" r="1.25"/>
<circle cx="136.6" cy="170.3" r="1.25"/>
<circle cx="130.9" cy="167.6" r="1.25"/>
<circle cx="144.5" cy="164.5" r="1.25"/>
<circle cx="138.6" cy="168.6" r="1.25"/>
<circle cx="144.6" cy="164.4" r="1.25"/>
<circle cx="135.1" cy="160.4" r="1.25"/>
<circle cx="128.4" cy="166.0" r="1.25"/>
<circle cx="133.9" cy="162.0" r="1.25"/>
<circle cx="127.7" cy="175.3" r="1.25"/>
<circle cx="137.9" cy="170.4" r="1.25"/>
<circle cx="129.9" cy="169.0" r="1.25"/>
<circle cx="136.7" cy="166.8" r="1.25"/>
<circle cx="132.1" cy="162.4" r="1.25"/>
<circle cx="136.0" cy="168.9" r="1.25"/>
<circle cx="126.2" cy="175.8" r="1.25"/>
<circle cx="130.7" cy="168.8" r="1.25"/>
<circle cx="131.6" cy="165.9" r="1.25"/>
<circle cx="141.1" cy="157.6" r="1.25"/>
<circle cx="143.0" cy="159.3" r="1.25"/>
<circle cx="133.6" cy="172.4" r="1.25"/>
<circle cx="128.1" cy="177.0" r="1.25"/>
<circle cx="140.4" cy="163.2" r="1.25"/>
<circle cx="132.9" cy="170.5" r="1.25"/>
<circle cx="142.6" cy="168.7" r="1.25"/>
<circle cx="140.4" cy="172.9" r="1.25"/>
<circle cx="135.3" cy="172.0" r="1.25"/>
<circle cx="143.8" cy="175.0" r="1.25"/>
<circle cx="126.1" cy="173.0" r="1.25"/>
<circle cx="135.7" cy="169.5" r="1.25"/>
<circle cx="134.1" cy="175.2" r="1.25"/>
<circle cx="137.8" cy="166.0" r="1.25"/>
<circle cx="134.9" cy="163.8" r="1.25"/>
<circle cx="133.6" cy="165.6" r="1.25"/>
<circle cx="132.3" cy="174.9" r="1.25"/>
<circle cx="135.7" cy="160.7" r="1.25"/>
<circle cx="131.9" cy="169.2" r="1.25"/>
<circle cx="137.3" cy="175.8" r="1.25"/>
<circle cx="132.3" cy="174.7" r="1.25"/>
<circle cx="144.7" cy="166.7" r="1.25"/>
<circle cx="143.8" cy="158.1" r="1.25"/>
<circle cx="137.0" cy="175.9" r="1.25"/>
<circle cx="141.1" cy="177.6" r="1.25"/>
<circle cx="136.1" cy="171.1" r="1.25"/>
<circle cx="133.6" cy="169.4" r="1.25"/>
<circle cx="132.8" cy="171.9" r="1.25"/>
<circle cx="136.2" cy="163.8" r="1.25"/>
<circle cx="133.8" cy="169.3" r="1.25"/>
<circle cx="143.2" cy="168.6" r="1.25"/>
<circle cx="134.6" cy="177.5" r="1.25"/>
<circle cx="132.7" cy="174.1" r="1.25"/>
<circle cx="129.3" cy="177.2" r="1.25"/>
<circle cx="142.1" cy="160.0" r="1.25"/>
<circle cx="143.4" cy="174.3" r="1.25"/>
<circle cx="145.3" cy="168.2" r="1.25"/>
<circle cx="129.0" cy="169.5" r="1.25"/>
<circle cx="135.8" cy="159.9" r="1.25"/>
<circle cx="138.3" cy="164.4" r="1.25"/>
<circle cx="145.4" cy="161.3" r="1.25"/>
<circle cx="134.0" cy="164.5" r="1.25"/>
<circle cx="139.5" cy="162.0" r="1.25"/>
<circle cx="142.4" cy="171.2" r="1.25"/>
<circle cx="129.8" cy="170.1" r="1.25"/>
<circle cx="131.2" cy="169.4" r="1.25"/>
<circle cx="145.4" cy="167.5" r="1.25"/>
<circle cx="128.4" cy="173.7" r="1.25"/>
<circle cx="128.1" cy="164.2" r="1.25"/>
<circle cx="136.2" cy="170.0" r="1.25"/>
<circle cx="141.7" cy="156.4" r="1.25"/>
<circle cx="141.0" cy="171.7" r="1.25"/>
<circle cx="132.9" cy="162.7" r="1.25"/>
<circle cx="127.9" cy="172.1" r="1.25"/>
<circle cx="132.8" cy="165.7" r="1.25"/>
<circle cx="128.5" cy="164.5" r="1.25"/>
<circle cx="170.1" cy="174.0" r="1.25"/>
<circle cx="137.5" cy="175.1" r="1.25"/>
<circle cx="165.3" cy="176.1" r="1.25"/>
<circle cx="163.5" cy="171.5" r="1.25"/>
<circle cx="170.2" cy="177.1" r="1.25"/>
<circle cx="137.2" cy="168.1" r="1.25"/>
<circle cx="136.2" cy="173.3" r="1.25"/>
<circle cx="148.3" cy="158.7" r="1.25"/>
<circle cx="134.0" cy="150.1" r="1.25"/>
<circle cx="170.7" cy="173.3" r="1.25"/>
<circle cx="131.3" cy="157.3" r="1.25"/>
<circle cx="144.5" cy="149.9" r="1.25"/>
<circle cx="164.0" cy="166.5" r="1.25"/>
<circle cx="134.8" cy="151.5" r="1.25"/>
<circle cx="127.6" cy="156.3" r="1.25"/>
<circle cx="133.2" cy="148.5" r="1.25"/>
<circle cx="138.4" cy="150.2" r="1.25"/>
<circle cx="146.4" cy="172.4" r="1.25"/>
<circle cx="133.3" cy="168.1" r="1.25"/>
<circle cx="143.3" cy="155.3" r="1.25"/>
<circle cx="169.7" cy="170.4" r="1.25"/>
<circle cx="146.8" cy="168.9" r="1.25"/>
<circle cx="138.0" cy="164.7" r="1.25"/>
<circle cx="142.9" cy="165.0" r="1.25"/>
<circle cx="135.8" cy="150.2" r="1.25"/>
<circle cx="149.6" cy="159.2" r="1.25"/>
<circle cx="161.5" cy="171.9" r="1.25"/>
<circle cx="152.1" cy="162.7" r="1.25"/>
<circle cx="130.0" cy="172.3" r="1.25"/>
<circle cx="140.8" cy="149.4" r="1.25"/>
<circle cx="151.9" cy="165.4" r="1.25"/>
<circle cx="139.7" cy="153.3" r="1.25"/>
<circle cx="136.4" cy="167.6" r="1.25"/>
<circle cx="139.0" cy="174.5" r="1.25"/>
<circle cx="161.6" cy="175.6" r="1.25"/>
<circle cx="132.1" cy="144.4" r="1.25"/>
<circle cx="157.3" cy="165.6" r="1.25"/>
<circle cx="145.0" cy="169.0" r="1.25"/>
<circle cx="137.4" cy="157.2" r="1.25"/>
<circle cx="154.9" cy="157.5" r="1.25"/>
<circle cx="168.0" cy="174.8" r="1.25"/>
<circle cx="127.9" cy="147.9" r="1.25"/>
<circle cx="135.1" cy="156.5" r="1.25"/>
<circle cx="127.8" cy="165.2" r="1.25"/>
<circle cx="134.3" cy="164.0" r="1.25"/>
<circle cx="159.0" cy="166.7" r="1.25"/>
<circle cx="157.5" cy="157.7" r="1.25"/>
<circle cx="164.4" cy="168.9" r="1.25"/>
<circle cx="128.0" cy="165.2" r="1.25"/>
<circle cx="128.2" cy="147.0" r="1.25"/>
<circle cx="162.4" cy="176.1" r="1.25"/>
<circle cx="160.5" cy="171.8" r="1.25"/>
<circle cx="144.1" cy="172.6" r="1.25"/>
<circle cx="138.9" cy="175.6" r="1.25"/>
<circle cx="145.5" cy="169.3" r="1.25"/>
<circle cx="160.0" cy="171.8" r="1.25"/>
<circle cx="146.8" cy="168.5" r="1.25"/>
<circle cx="145.7" cy="175.5" r="1.25"/>
<circle cx="131.9" cy="147.2" r="1.25"/>
<circle cx="158.3" cy="165.1" r="1.25"/>
<circle cx="151.1" cy="169.6" r="1.25"/>
<circle cx="151.0" cy="153.6" r="1.25"/>
<circle cx="142.5" cy="152.4" r="1.25"/>
<circle cx="140.3" cy="167.4" r="1.25"/>
<circle cx="156.8" cy="161.7" r="1.25"/>
<circle cx="149.7" cy="175.9" r="1.25"/>
<circle cx="142.2" cy="173.8" r="1.25"/>
<circle cx="132.5" cy="155.7" r="1.25"/>
<circle cx="163.5" cy="174.2" r="1.25"/>
<circle cx="133.8" cy="164.6" r="1.25"/>
<circle cx="147.2" cy="173.1" r="1.25"/>
<circle cx="131.3" cy="155.7" r="1.25"/>
<circle cx="135.5" cy="152.2" r="1.25"/>
<circle cx="135.1" cy="159.8" r="1.25"/>
<circle cx="131.2" cy="159.5" r="1.25"/>
<circle cx="142.7" cy="147.3" r="1.25"/>
<circle cx="126.5" cy="169.9" r="1.25"/>
<circle cx="129.9" cy="176.9" r="1.25"/>
<circle cx="151.9" cy="164.5" r="1.25"/>
<circle cx="146.0" cy="163.9" r="1.25"/>
<circle cx="126.4" cy="166.5" r="1.25"/>
<circle cx="154.9" cy="170.9" r="1.25"/>
<circle cx="137.6" cy="148.0" r="1.25"/>
<circle cx="127.3" cy="172.4" r="1.25"/>
<circle cx="139.6" cy="165.0" r="1.25"/>
<circle cx="164.9" cy="168.4" r="1.25"/>
<circle cx="162.1" cy="174.0" r="1.25"/>
<circle cx="141.0" cy="171.6" r="1.25"/>
<circle cx="140.7" cy="162.7" r="1.25"/>
<circle cx="143.0" cy="155.5" r="1.25"/>
<circle cx="127.9" cy="165.4" r="1.25"/>
<circle cx="163.7" cy="176.3" r="1.25"/>
<circle cx="169.5" cy="172.8" r="1.25"/>
<circle cx="133.2" cy="163.3" r="1.25"/>
<circle cx="129.7" cy="150.7" r="1.25"/>
<circle cx="146.4" cy="154.2" r="1.25"/>
<circle cx="127.8" cy="150.6" r="1.25"/>
<circle cx="159.3" cy="174.3" r="1.25"/>
<circle cx="165.3" cy="171.0" r="1.25"/>
<circle cx="139.0" cy="161.9" r="1.25"/>
<circle cx="145.4" cy="160.9" r="1.25"/>
<circle cx="156.6" cy="175.8" r="1.25"/>
<circle cx="133.6" cy="158.6" r="1.25"/>
<circle cx="151.9" cy="158.0" r="1.25"/>
<circle cx="129.9" cy="159.2" r="1.25"/>
<circle cx="170.7" cy="176.6" r="1.25"/>
<circle cx="170.8" cy="175.2" r="1.25"/>
<circle cx="163.3" cy="172.1" r="1.25"/>
<circle cx="154.0" cy="167.7" r="1.25"/>
<circle cx="169.8" cy="174.2" r="1.25"/>
<circle cx="139.8" cy="173.6" r="1.25"/>
<circle cx="127.3" cy="166.4" r="1.25"/>
<circle cx="146.6" cy="167.4" r="1.25"/>
<circle cx="143.1" cy="159.9" r="1.25"/>
<circle cx="150.4" cy="162.8" r="1.25"/>
<circle cx="131.3" cy="173.7" r="1.25"/>
<circle cx="151.2" cy="173.9" r="1.25"/>
<circle cx="137.7" cy="161.1" r="1.25"/>
<circle cx="137.6" cy="162.8" r="1.25"/>
<circle cx="136.4" cy="148.6" r="1.25"/>
<circle cx="149.6" cy="154.6" r="1.25"/>
<circle cx="144.8" cy="159.9" r="1.25"/>
<circle cx="165.7" cy="174.0" r="1.25"/>
<circle cx="160.8" cy="177.3" r="1.25"/>
<circle cx="159.2" cy="174.2" r="1.25"/>
<circle cx="144.0" cy="176.2" r="1.25"/>
<circle cx="151.9" cy="158.4" r="1.25"/>
<circle cx="161.7" cy="163.9" r="1.25"/>
<circle cx="143.1" cy="164.1" r="1.25"/>
<circle cx="135.8" cy="167.6" r="1.25"/>
<circle cx="145.6" cy="167.4" r="1.25"/>
<circle cx="166.1" cy="176.5" r="1.25"/>
<circle cx="166.1" cy="174.0" r="1.25"/>
<circle cx="141.7" cy="167.8" r="1.25"/>
<circle cx="164.0" cy="167.7" r="1.25"/>
<circle cx="159.9" cy="173.4" r="1.25"/>
<circle cx="128.0" cy="148.3" r="1.25"/>
<circle cx="151.2" cy="157.6" r="1.25"/>
<circle cx="168.6" cy="170.6" r="1.25"/>
<circle cx="134.9" cy="172.1" r="1.25"/>
<circle cx="152.7" cy="153.3" r="1.25"/>
<circle cx="131.1" cy="151.8" r="1.25"/>
<circle cx="151.5" cy="169.7" r="1.25"/>
<circle cx="143.5" cy="173.5" r="1.25"/>
<circle cx="150.8" cy="173.0" r="1.25"/>
<circle cx="169.6" cy="169.8" r="1.25"/>
<circle cx="132.9" cy="173.3" r="1.25"/>
<circle cx="162.8" cy="163.5" r="1.25"/>
<circle cx="163.6" cy="169.5" r="1.25"/>
<circle cx="147.9" cy="173.1" r="1.25"/>
<circle cx="144.1" cy="166.7" r="1.25"/>
<circle cx="129.5" cy="151.0" r="1.25"/>
<circle cx="167.1" cy="167.1" r="1.25"/>
<circle cx="133.8" cy="159.6" r="1.25"/>
<circle cx="152.5" cy="162.3" r="1.25"/>
<circle cx="126.3" cy="155.8" r="1.25"/>
<circle cx="126.9" cy="177.0" r="1.25"/>
<circle cx="128.1" cy="166.1" r="1.25"/>
<circle cx="138.5" cy="160.4" r="1.25"/>
<circle cx="138.1" cy="162.1" r="1.25"/>
<circle cx="170.0" cy="171.2" r="1.25"/>
<circle cx="151.8" cy="174.7" r="1.25"/>
<circle cx="161.6" cy="172.0" r="1.25"/>
<circle cx="142.7" cy="171.0" r="1.25"/>
<circle cx="166.1" cy="174.3" r="1.25"/>
<circle cx="140.0" cy="169.2" r="1.25"/>
<circle cx="149.4" cy="161.4" r="1.25"/>
<circle cx="151.3" cy="154.6" r="1.25"/>
<circle cx="141.5" cy="177.1" r="1.25"/>
<circle cx="163.5" cy="174.7" r="1.25"/>
<circle cx="156.8" cy="175.7" r="1.25"/>
<circle cx="159.8" cy="176.5" r="1.25"/>
<circle cx="150.2" cy="171.0" r="1.25"/>
<circle cx="162.7" cy="174.2" r="1.25"/>
<circle cx="165.9" cy="175.2" r="1.25"/>
<circle cx="154.7" cy="177.0" r="1.25"/>
<circle cx="158.4" cy="175.2" r="1.25"/>
<circle cx="170.3" cy="173.4" r="1.25"/>
<circle cx="176.2" cy="174.9" r="1.25"/>
<circle cx="175.8" cy="173.1" r="1.25"/>
<circle cx="152.2" cy="176.2" r="1.25"/>
<circle cx="166.3" cy="170.1" r="1.25"/>
<circle cx="160.0" cy="171.7" r="1.25"/>
<circle cx="162.0" cy="171.0" r="1.25"/>
<circle cx="151.9" cy="173.9" r="1.25"/>
<circle cx="175.2" cy="175.4" r="1.25"/>
<circle cx="157.2" cy="177.3" r="1.25"/>
<circle cx="154.6" cy="175.5" r="1.25"/>
<circle cx="169.7" cy="175.9" r="1.25"/>
<circle cx="161.2" cy="176.0" r="1.25"/>
<circle cx="166.9" cy="171.0" r="1.25"/>
<circle cx="168.1" cy="176.0" r="1.25"/>
<circle cx="170.5" cy="170.3" r="1.25"/>
<circle cx="166.8" cy="176.9" r="1.25"/>
<circle cx="160.8" cy="146.3" r="1.25"/>
<circle cx="135.2" cy="150.2" r="1.25"/>
<circle cx="163.3" cy="165.3" r="1.25"/>
<circle cx="138.1" cy="158.6" r="1.25"/>
<circle cx="154.7" cy="156.2" r="1.25"/>
<circle cx="142.8" cy="144.8" r="1.25"/>
<circle cx="131.7" cy="144.7" r="1.25"/>
<circle cx="148.8" cy="141.8" r="1.25"/>
<circle cx="147.6" cy="165.0" r="1.25"/>
<circle cx="151.4" cy="137.7" r="1.25"/>
<circle cx="153.3" cy="145.1" r="1.25"/>
<circle cx="133.6" cy="134.8" r="1.25"/>
<circle cx="159.2" cy="160.7" r="1.25"/>
<circle cx="146.1" cy="153.3" r="1.25"/>
<circle cx="151.1" cy="154.2" r="1.25"/>
<circle cx="142.6" cy="142.7" r="1.25"/>
<circle cx="157.0" cy="160.4" r="1.25"/>
<circle cx="141.8" cy="167.2" r="1.25"/>
<circle cx="147.2" cy="150.0" r="1.25"/>
<circle cx="165.8" cy="129.4" r="1.25"/>
<circle cx="148.1" cy="160.2" r="1.25"/>
<circle cx="143.8" cy="143.2" r="1.25"/>
<circle cx="158.8" cy="129.8" r="1.25"/>
<circle cx="135.1" cy="148.3" r="1.25"/>
<circle cx="151.1" cy="165.7" r="1.25"/>
<circle cx="143.9" cy="136.1" r="1.25"/>
<circle cx="158.0" cy="140.7" r="1.25"/>
<circle cx="131.1" cy="142.4" r="1.25"/>
<circle cx="167.3" cy="154.9" r="1.25"/>
<circle cx="143.1" cy="149.9" r="1.25"/>
<circle cx="142.3" cy="138.8" r="1.25"/>
<circle cx="157.9" cy="154.0" r="1.25"/>
<circle cx="145.3" cy="136.9" r="1.25"/>
<circle cx="151.4" cy="165.0" r="1.25"/>
<circle cx="165.9" cy="140.9" r="1.25"/>
<circle cx="139.6" cy="146.5" r="1.25"/>
<circle cx="138.8" cy="158.8" r="1.25"/>
<circle cx="154.4" cy="167.8" r="1.25"/>
<circle cx="138.2" cy="138.1" r="1.25"/>
<circle cx="162.8" cy="143.8" r="1.25"/>
<circle cx="158.6" cy="144.0" r="1.25"/>
<circle cx="142.6" cy="164.1" r="1.25"/>
<circle cx="136.1" cy="154.1" r="1.25"/>
<circle cx="147.2" cy="163.9" r="1.25"/>
<circle cx="138.0" cy="146.9" r="1.25"/>
<circle cx="159.6" cy="140.9" r="1.25"/>
<circle cx="162.8" cy="145.5" r="1.25"/>
<circle cx="130.9" cy="167.0" r="1.25"/>
<circle cx="130.4" cy="140.2" r="1.25"/>
<circle cx="158.0" cy="135.4" r="1.25"/>
<circle cx="155.9" cy="142.1" r="1.25"/>
<circle cx="164.9" cy="164.0" r="1.25"/>
<circle cx="167.2" cy="137.6" r="1.25"/>
<circle cx="160.1" cy="134.8" r="1.25"/>
<circle cx="149.2" cy="146.3" r="1.25"/>
<circle cx="145.8" cy="102.7" r="1.25"/>
<circle cx="156.2" cy="103.0" r="1.25"/>
<circle cx="163.4" cy="100.8" r="1.25"/>
<circle cx="161.7" cy="114.9" r="1.25"/>
<circle cx="149.4" cy="119.5" r="1.25"/>
<circle cx="160.5" cy="121.1" r="1.25"/>
<circle cx="170.4" cy="121.8" r="1.25"/>
<circle cx="162.0" cy="123.7" r="1.25"/>
<circle cx="176.9" cy="124.9" r="1.25"/>
<circle cx="152.5" cy="126.0" r="1.25"/>
<circle cx="155.3" cy="125.3" r="1.25"/>
<circle cx="141.3" cy="130.6" r="1.25"/>
<circle cx="145.8" cy="130.6" r="1.25"/>
<circle cx="154.0" cy="131.8" r="1.25"/>
<circle cx="157.7" cy="130.7" r="1.25"/>
<circle cx="159.9" cy="132.6" r="1.25"/>
<circle cx="165.5" cy="130.0" r="1.25"/>
<circle cx="169.0" cy="128.7" r="1.25"/>
<circle cx="174.3" cy="130.7" r="1.25"/>
<circle cx="163.5" cy="132.7" r="1.25"/>
<circle cx="183.3" cy="135.2" r="1.25"/>
<circle cx="146.4" cy="136.4" r="1.25"/>
<circle cx="149.9" cy="134.9" r="1.25"/>
<circle cx="151.7" cy="135.3" r="1.25"/>
<circle cx="139.0" cy="139.0" r="1.25"/>
<circle cx="158.5" cy="139.9" r="1.25"/>
<circle cx="166.6" cy="139.5" r="1.25"/>
<circle cx="169.7" cy="139.9" r="1.25"/>
<circle cx="137.2" cy="142.5" r="1.25"/>
<circle cx="148.5" cy="141.0" r="1.25"/>
<circle cx="152.8" cy="142.2" r="1.25"/>
<circle cx="160.2" cy="143.6" r="1.25"/>
<circle cx="155.0" cy="143.7" r="1.25"/>
<circle cx="162.2" cy="147.1" r="1.25"/>
<circle cx="171.3" cy="148.6" r="1.25"/>
<circle cx="175.5" cy="148.3" r="1.25"/>
<circle cx="175.5" cy="159.4" r="1.25"/>
<circle cx="181.8" cy="165.0" r="1.25"/>
<circle cx="207.8" cy="173.2" r="1.25"/>
<circle cx="221.2" cy="169.3" r="1.25"/>
<circle cx="188.7" cy="175.0" r="1.25"/>
<circle cx="182.1" cy="175.0" r="1.25"/>
<circle cx="179.0" cy="40.1" r="1.25"/>
<circle cx="191.7" cy="44.5" r="1.25"/>
<circle cx="172.7" cy="53.9" r="1.25"/>
<circle cx="158.9" cy="60.0" r="1.25"/>
<circle cx="161.7" cy="71.0" r="1.25"/>
<circle cx="159.2" cy="75.8" r="1.25"/>
<circle cx="166.9" cy="93.6" r="1.25"/>
<circle cx="163.4" cy="100.9" r="1.25"/>
</g>
</g>
<line x1="98.36" y1="18.50" x2="98.36" y2="183.50" stroke="#9a9a9a" stroke-width="0.9" stroke-dasharray="1.2,2.2"/>
<line x1="125.84" y1="18.50" x2="125.84" y2="183.50" stroke="#9a9a9a" stroke-width="0.9" stroke-dasharray="1.2,2.2"/>
<line x1="36.50" y1="177.10" x2="222.50" y2="177.10" stroke="#9a9a9a" stroke-width="0.9" stroke-dasharray="1.2,2.2"/>
<rect x="36.5" y="18.5" width="186.0" height="165.0" fill="none" stroke="#666" stroke-width="1"/>
<line x1="34.00" y1="177.10" x2="36.50" y2="177.10" stroke="#333" stroke-width="0.8" />
<text x="32.20" y="179.80" font-size="7.6" fill="#111" stroke="#111" stroke-width="0.22" text-anchor="end" font-weight="normal" >0</text>
<line x1="34.00" y1="128.20" x2="36.50" y2="128.20" stroke="#333" stroke-width="0.8" />
<text x="32.20" y="130.90" font-size="7.6" fill="#111" stroke="#111" stroke-width="0.22" text-anchor="end" font-weight="normal" >80</text>
<line x1="34.00" y1="79.30" x2="36.50" y2="79.30" stroke="#333" stroke-width="0.8" />
<text x="32.20" y="82.00" font-size="7.6" fill="#111" stroke="#111" stroke-width="0.22" text-anchor="end" font-weight="normal" >160</text>
<line x1="34.00" y1="30.40" x2="36.50" y2="30.40" stroke="#333" stroke-width="0.8" />
<text x="32.20" y="33.10" font-size="7.6" fill="#111" stroke="#111" stroke-width="0.22" text-anchor="end" font-weight="normal" >240</text>
<line x1="43.40" y1="183.50" x2="43.40" y2="186.00" stroke="#333" stroke-width="0.8" />
<text x="43.40" y="193.90" font-size="7.6" fill="#111" stroke="#111" stroke-width="0.22" text-anchor="middle" font-weight="normal" >-5</text>
<line x1="112.10" y1="183.50" x2="112.10" y2="186.00" stroke="#333" stroke-width="0.8" />
<text x="112.10" y="193.90" font-size="7.6" fill="#111" stroke="#111" stroke-width="0.22" text-anchor="middle" font-weight="normal" >0</text>
<line x1="180.80" y1="183.50" x2="180.80" y2="186.00" stroke="#333" stroke-width="0.8" />
<text x="180.80" y="193.90" font-size="7.6" fill="#111" stroke="#111" stroke-width="0.22" text-anchor="middle" font-weight="normal" >5</text>
<text transform="translate(14.10,101.00) rotate(-90)" font-size="7.8" fill="#111" stroke="#111" stroke-width="0.22" text-anchor="middle">-log<tspan font-size="5.4" dy="1.8">10</tspan><tspan dy="-1.8">(p-value)</tspan></text>
<text x="129.50" y="205.10" font-size="7.6" fill="#111" stroke="#111" stroke-width="0.22" text-anchor="middle">log<tspan font-size="5.3" dy="1.8">2</tspan><tspan dy="-1.8">(FoldChange)</tspan></text>
<text x="58.80" y="12.10" font-size="7.3" fill="#111" stroke="#111" stroke-width="0.22">4×MIC vs Control:p-value&lt;0.05 &amp; |log<tspan font-size="5.1" dy="1.6">2</tspan><tspan dy="-1.6">FC|&gt;1</tspan></text>
<circle cx="44.0" cy="26.0" r="1.3" fill="#1f3dff"/>
<text x="50.80" y="28.00" font-size="6.2" fill="#222" stroke="#222" stroke-width="0.22" text-anchor="start" font-weight="normal" >Significant Down</text>
<circle cx="105.8" cy="26.0" r="1.1" fill="#555"/>
<text x="112.10" y="28.00" font-size="6.2" fill="#222" stroke="#222" stroke-width="0.22" text-anchor="start" font-weight="normal" >Non-Significant</text>
<circle cx="170.6" cy="26.0" r="1.3" fill="#1fa81f"/>
<text x="177.60" y="28.00" font-size="6.2" fill="#222" stroke="#222" stroke-width="0.22" text-anchor="start" font-weight="normal" >Significant Up</text>
<text x="42.10" y="44.80" font-size="6.3" fill="#4a78e6" stroke="#4a78e6" stroke-width="0.22" text-anchor="start" font-weight="normal" >p&lt;0.05</text>
<text x="42.10" y="53.10" font-size="6.3" fill="#4a78e6" stroke="#4a78e6" stroke-width="0.22">log<tspan font-size="4.4" dy="1.5">2</tspan><tspan dy="-1.5">FC&lt;-1</tspan></text>
<text x="42.10" y="61.40" font-size="6.3" fill="#4a78e6" stroke="#4a78e6" stroke-width="0.22" text-anchor="start" font-weight="normal" >Sig.: 341</text>
<text x="220.10" y="45.00" font-size="6.3" fill="#5cc24a" stroke="#5cc24a" stroke-width="0.22" text-anchor="end" font-weight="normal" >p&lt;0.05</text>
<text x="220.10" y="53.30" font-size="6.3" fill="#5cc24a" stroke="#5cc24a" stroke-width="0.22" text-anchor="end">log<tspan font-size="4.4" dy="1.5">2</tspan><tspan dy="-1.5">FC&gt;1</tspan></text>
<text x="220.10" y="61.60" font-size="6.3" fill="#5cc24a" stroke="#5cc24a" stroke-width="0.22" text-anchor="end" font-weight="normal" >Sig.: 546</text>
<clipPath id="cb"><rect x="264.5" y="16.5" width="186.0" height="165.0"/></clipPath>
<g clip-path="url(#cb)">
<path d="M328.7,176.6 L328.7,164.2 L334.5,169.6 L340.1,174.8 L343,175.6 L346.5,175.4 L350,174.6 L353.5,171.6 L356.5,168.6 L357.5,164.6 L357.5,176.6 Z" fill="#7f7f7f"/>
<g fill="#7f7f7f">
</g>
<g fill="#4273f8">
<circle cx="321.4" cy="175.2" r="1.25"/>
<circle cx="323.2" cy="165.8" r="1.25"/>
<circle cx="324.6" cy="167.8" r="1.25"/>
<circle cx="322.0" cy="166.2" r="1.25"/>
<circle cx="326.8" cy="163.6" r="1.25"/>
<circle cx="323.5" cy="174.3" r="1.25"/>
<circle cx="323.5" cy="174.9" r="1.25"/>
<circle cx="328.0" cy="165.7" r="1.25"/>
<circle cx="322.0" cy="164.5" r="1.25"/>
<circle cx="320.9" cy="169.1" r="1.25"/>
<circle cx="325.2" cy="162.6" r="1.25"/>
<circle cx="326.3" cy="169.5" r="1.25"/>
<circle cx="325.2" cy="175.1" r="1.25"/>
<circle cx="327.9" cy="167.3" r="1.25"/>
<circle cx="323.2" cy="175.0" r="1.25"/>
<circle cx="323.8" cy="168.2" r="1.25"/>
<circle cx="321.7" cy="165.5" r="1.25"/>
<circle cx="325.7" cy="166.5" r="1.25"/>
<circle cx="325.7" cy="165.4" r="1.25"/>
<circle cx="322.2" cy="173.4" r="1.25"/>
<circle cx="327.2" cy="163.4" r="1.25"/>
<circle cx="326.4" cy="170.6" r="1.25"/>
<circle cx="325.2" cy="174.9" r="1.25"/>
<circle cx="320.5" cy="173.9" r="1.25"/>
<circle cx="324.8" cy="175.2" r="1.25"/>
<circle cx="322.5" cy="172.5" r="1.25"/>
<circle cx="323.7" cy="168.4" r="1.25"/>
<circle cx="325.0" cy="171.4" r="1.25"/>
<circle cx="323.2" cy="170.1" r="1.25"/>
<circle cx="322.4" cy="167.2" r="1.25"/>
<circle cx="328.2" cy="171.4" r="1.25"/>
<circle cx="324.9" cy="165.6" r="1.25"/>
<circle cx="321.7" cy="170.6" r="1.25"/>
<circle cx="325.0" cy="173.0" r="1.25"/>
<circle cx="322.5" cy="173.2" r="1.25"/>
<circle cx="324.4" cy="173.3" r="1.25"/>
<circle cx="328.1" cy="162.9" r="1.25"/>
<circle cx="323.7" cy="173.3" r="1.25"/>
<circle cx="321.5" cy="166.6" r="1.25"/>
<circle cx="321.4" cy="173.1" r="1.25"/>
<circle cx="324.9" cy="163.9" r="1.25"/>
<circle cx="323.9" cy="172.0" r="1.25"/>
<circle cx="324.3" cy="172.9" r="1.25"/>
<circle cx="326.9" cy="170.8" r="1.25"/>
<circle cx="323.6" cy="166.4" r="1.25"/>
<circle cx="323.7" cy="167.8" r="1.25"/>
<circle cx="320.7" cy="170.5" r="1.25"/>
<circle cx="321.0" cy="172.1" r="1.25"/>
<circle cx="322.8" cy="166.3" r="1.25"/>
<circle cx="327.6" cy="170.0" r="1.25"/>
<circle cx="327.8" cy="167.0" r="1.25"/>
<circle cx="327.2" cy="167.0" r="1.25"/>
<circle cx="320.9" cy="168.5" r="1.25"/>
<circle cx="326.6" cy="167.3" r="1.25"/>
<circle cx="326.0" cy="167.4" r="1.25"/>
<circle cx="323.8" cy="174.4" r="1.25"/>
<circle cx="322.1" cy="172.4" r="1.25"/>
<circle cx="323.7" cy="167.6" r="1.25"/>
<circle cx="321.1" cy="169.0" r="1.25"/>
<circle cx="325.0" cy="174.1" r="1.25"/>
<circle cx="326.9" cy="169.5" r="1.25"/>
<circle cx="324.4" cy="173.3" r="1.25"/>
<circle cx="324.0" cy="174.0" r="1.25"/>
<circle cx="324.2" cy="169.4" r="1.25"/>
<circle cx="327.5" cy="171.9" r="1.25"/>
<circle cx="323.9" cy="171.2" r="1.25"/>
<circle cx="325.2" cy="172.6" r="1.25"/>
<circle cx="321.5" cy="164.7" r="1.25"/>
<circle cx="327.4" cy="162.2" r="1.25"/>
<circle cx="326.9" cy="162.9" r="1.25"/>
<circle cx="326.3" cy="168.8" r="1.25"/>
<circle cx="321.0" cy="169.4" r="1.25"/>
<circle cx="325.5" cy="173.2" r="1.25"/>
<circle cx="327.9" cy="165.7" r="1.25"/>
<circle cx="324.9" cy="175.1" r="1.25"/>
<circle cx="325.4" cy="156.6" r="1.25"/>
<circle cx="322.0" cy="158.7" r="1.25"/>
<circle cx="307.7" cy="163.9" r="1.25"/>
<circle cx="314.1" cy="166.1" r="1.25"/>
<circle cx="309.1" cy="167.7" r="1.25"/>
<circle cx="309.7" cy="169.1" r="1.25"/>
<circle cx="315.2" cy="169.4" r="1.25"/>
<circle cx="316.6" cy="167.2" r="1.25"/>
<circle cx="318.1" cy="168.0" r="1.25"/>
<circle cx="303.9" cy="171.8" r="1.25"/>
<circle cx="307.4" cy="172.6" r="1.25"/>
<circle cx="312.0" cy="173.6" r="1.25"/>
<circle cx="316.3" cy="173.4" r="1.25"/>
<circle cx="295.7" cy="175.0" r="1.25"/>
<circle cx="318.1" cy="172.3" r="1.25"/>
<circle cx="311.9" cy="174.5" r="1.25"/>
<circle cx="319.5" cy="163.0" r="1.25"/>
<circle cx="318.8" cy="170.5" r="1.25"/>
<circle cx="320.0" cy="174.5" r="1.25"/>
</g>
<g fill="#5ec24a">
<circle cx="360.9" cy="165.2" r="1.25"/>
<circle cx="360.7" cy="169.7" r="1.25"/>
<circle cx="363.9" cy="159.8" r="1.25"/>
<circle cx="361.3" cy="172.7" r="1.25"/>
<circle cx="368.2" cy="162.9" r="1.25"/>
<circle cx="358.2" cy="169.2" r="1.25"/>
<circle cx="363.3" cy="168.7" r="1.25"/>
<circle cx="362.1" cy="163.9" r="1.25"/>
<circle cx="369.0" cy="162.1" r="1.25"/>
<circle cx="361.4" cy="166.8" r="1.25"/>
<circle cx="364.6" cy="163.1" r="1.25"/>
<circle cx="367.5" cy="170.6" r="1.25"/>
<circle cx="367.5" cy="167.0" r="1.25"/>
<circle cx="369.2" cy="173.6" r="1.25"/>
<circle cx="358.2" cy="171.7" r="1.25"/>
<circle cx="358.1" cy="167.3" r="1.25"/>
<circle cx="365.0" cy="174.0" r="1.25"/>
<circle cx="364.5" cy="167.6" r="1.25"/>
<circle cx="365.9" cy="164.3" r="1.25"/>
<circle cx="360.1" cy="165.0" r="1.25"/>
<circle cx="369.0" cy="161.8" r="1.25"/>
<circle cx="358.7" cy="174.8" r="1.25"/>
<circle cx="362.7" cy="164.1" r="1.25"/>
<circle cx="368.8" cy="163.7" r="1.25"/>
<circle cx="358.2" cy="166.4" r="1.25"/>
<circle cx="368.0" cy="163.2" r="1.25"/>
<circle cx="364.8" cy="167.9" r="1.25"/>
<circle cx="359.4" cy="168.0" r="1.25"/>
<circle cx="368.0" cy="172.1" r="1.25"/>
<circle cx="369.8" cy="162.3" r="1.25"/>
<circle cx="362.2" cy="163.8" r="1.25"/>
<circle cx="364.3" cy="166.0" r="1.25"/>
<circle cx="366.6" cy="170.1" r="1.25"/>
<circle cx="358.9" cy="166.3" r="1.25"/>
<circle cx="369.0" cy="174.5" r="1.25"/>
<circle cx="364.1" cy="164.3" r="1.25"/>
<circle cx="366.9" cy="174.2" r="1.25"/>
<circle cx="358.7" cy="173.8" r="1.25"/>
<circle cx="365.0" cy="160.6" r="1.25"/>
<circle cx="359.2" cy="174.0" r="1.25"/>
<circle cx="368.1" cy="174.1" r="1.25"/>
<circle cx="357.9" cy="175.0" r="1.25"/>
<circle cx="361.8" cy="170.6" r="1.25"/>
<circle cx="358.1" cy="169.7" r="1.25"/>
<circle cx="360.6" cy="164.7" r="1.25"/>
<circle cx="367.3" cy="160.3" r="1.25"/>
<circle cx="364.5" cy="167.5" r="1.25"/>
<circle cx="367.3" cy="167.1" r="1.25"/>
<circle cx="357.9" cy="166.9" r="1.25"/>
<circle cx="365.6" cy="168.0" r="1.25"/>
<circle cx="361.9" cy="170.1" r="1.25"/>
<circle cx="359.5" cy="174.5" r="1.25"/>
<circle cx="361.6" cy="173.6" r="1.25"/>
<circle cx="363.5" cy="159.9" r="1.25"/>
<circle cx="368.5" cy="167.4" r="1.25"/>
<circle cx="364.2" cy="166.1" r="1.25"/>
<circle cx="359.6" cy="169.3" r="1.25"/>
<circle cx="362.1" cy="165.7" r="1.25"/>
<circle cx="360.0" cy="164.7" r="1.25"/>
<circle cx="368.4" cy="173.7" r="1.25"/>
<circle cx="357.7" cy="171.4" r="1.25"/>
<circle cx="367.4" cy="170.5" r="1.25"/>
<circle cx="360.4" cy="164.7" r="1.25"/>
<circle cx="360.8" cy="166.0" r="1.25"/>
<circle cx="364.0" cy="173.5" r="1.25"/>
<circle cx="358.6" cy="167.4" r="1.25"/>
<circle cx="364.9" cy="170.8" r="1.25"/>
<circle cx="358.3" cy="171.0" r="1.25"/>
<circle cx="369.8" cy="169.8" r="1.25"/>
<circle cx="366.1" cy="165.3" r="1.25"/>
<circle cx="367.6" cy="174.1" r="1.25"/>
<circle cx="357.6" cy="170.9" r="1.25"/>
<circle cx="362.6" cy="162.7" r="1.25"/>
<circle cx="366.7" cy="162.2" r="1.25"/>
<circle cx="361.8" cy="162.5" r="1.25"/>
<circle cx="360.2" cy="175.0" r="1.25"/>
<circle cx="370.0" cy="169.1" r="1.25"/>
<circle cx="363.7" cy="173.9" r="1.25"/>
<circle cx="366.9" cy="163.0" r="1.25"/>
<circle cx="365.3" cy="172.0" r="1.25"/>
<circle cx="358.7" cy="168.8" r="1.25"/>
<circle cx="359.5" cy="171.8" r="1.25"/>
<circle cx="366.8" cy="172.4" r="1.25"/>
<circle cx="369.2" cy="172.1" r="1.25"/>
<circle cx="367.9" cy="169.5" r="1.25"/>
<circle cx="362.9" cy="172.1" r="1.25"/>
<circle cx="368.4" cy="174.7" r="1.25"/>
<circle cx="364.1" cy="162.2" r="1.25"/>
<circle cx="369.6" cy="166.0" r="1.25"/>
<circle cx="368.0" cy="162.6" r="1.25"/>
<circle cx="363.2" cy="166.9" r="1.25"/>
<circle cx="368.9" cy="171.3" r="1.25"/>
<circle cx="362.4" cy="172.3" r="1.25"/>
<circle cx="366.0" cy="172.7" r="1.25"/>
<circle cx="362.6" cy="169.5" r="1.25"/>
<circle cx="368.0" cy="169.0" r="1.25"/>
<circle cx="368.0" cy="161.2" r="1.25"/>
<circle cx="363.6" cy="159.7" r="1.25"/>
<circle cx="367.7" cy="169.1" r="1.25"/>
<circle cx="363.2" cy="162.4" r="1.25"/>
<circle cx="361.9" cy="170.0" r="1.25"/>
<circle cx="361.2" cy="164.0" r="1.25"/>
<circle cx="366.3" cy="169.8" r="1.25"/>
<circle cx="367.6" cy="170.1" r="1.25"/>
<circle cx="358.0" cy="168.3" r="1.25"/>
<circle cx="360.9" cy="167.3" r="1.25"/>
<circle cx="360.3" cy="170.6" r="1.25"/>
<circle cx="368.7" cy="167.9" r="1.25"/>
<circle cx="369.4" cy="175.1" r="1.25"/>
<circle cx="359.9" cy="165.5" r="1.25"/>
<circle cx="364.1" cy="160.7" r="1.25"/>
<circle cx="369.3" cy="172.7" r="1.25"/>
<circle cx="360.6" cy="162.6" r="1.25"/>
<circle cx="364.4" cy="167.9" r="1.25"/>
<circle cx="362.2" cy="173.8" r="1.25"/>
<circle cx="365.8" cy="168.7" r="1.25"/>
<circle cx="363.1" cy="166.1" r="1.25"/>
<circle cx="365.8" cy="165.4" r="1.25"/>
<circle cx="364.0" cy="173.8" r="1.25"/>
<circle cx="363.7" cy="174.9" r="1.25"/>
<circle cx="358.2" cy="172.5" r="1.25"/>
<circle cx="364.5" cy="171.2" r="1.25"/>
<circle cx="368.6" cy="171.9" r="1.25"/>
<circle cx="357.9" cy="166.8" r="1.25"/>
<circle cx="369.4" cy="164.7" r="1.25"/>
<circle cx="364.8" cy="160.0" r="1.25"/>
<circle cx="362.4" cy="170.1" r="1.25"/>
<circle cx="361.0" cy="165.9" r="1.25"/>
<circle cx="364.3" cy="174.9" r="1.25"/>
<circle cx="365.6" cy="170.3" r="1.25"/>
<circle cx="362.3" cy="171.3" r="1.25"/>
<circle cx="366.1" cy="161.2" r="1.25"/>
<circle cx="364.7" cy="172.1" r="1.25"/>
<circle cx="361.8" cy="167.6" r="1.25"/>
<circle cx="368.5" cy="171.2" r="1.25"/>
<circle cx="359.6" cy="163.1" r="1.25"/>
<circle cx="361.2" cy="174.8" r="1.25"/>
<circle cx="369.5" cy="165.4" r="1.25"/>
<circle cx="369.3" cy="165.4" r="1.25"/>
<circle cx="363.0" cy="162.8" r="1.25"/>
<circle cx="362.4" cy="174.7" r="1.25"/>
<circle cx="360.8" cy="174.0" r="1.25"/>
<circle cx="363.1" cy="169.9" r="1.25"/>
<circle cx="367.2" cy="161.6" r="1.25"/>
<circle cx="367.0" cy="168.3" r="1.25"/>
<circle cx="365.9" cy="164.1" r="1.25"/>
<circle cx="362.0" cy="168.8" r="1.25"/>
<circle cx="361.1" cy="165.1" r="1.25"/>
<circle cx="367.1" cy="172.3" r="1.25"/>
<circle cx="364.6" cy="174.3" r="1.25"/>
<circle cx="360.8" cy="161.7" r="1.25"/>
<circle cx="364.4" cy="170.3" r="1.25"/>
<circle cx="362.7" cy="162.3" r="1.25"/>
<circle cx="361.3" cy="174.8" r="1.25"/>
<circle cx="365.4" cy="171.8" r="1.25"/>
<circle cx="362.4" cy="171.7" r="1.25"/>
<circle cx="361.8" cy="172.4" r="1.25"/>
<circle cx="361.9" cy="173.3" r="1.25"/>
<circle cx="364.1" cy="170.0" r="1.25"/>
<circle cx="368.8" cy="165.1" r="1.25"/>
<circle cx="358.3" cy="170.1" r="1.25"/>
<circle cx="368.1" cy="169.2" r="1.25"/>
<circle cx="362.5" cy="164.2" r="1.25"/>
<circle cx="368.1" cy="173.0" r="1.25"/>
<circle cx="359.4" cy="172.5" r="1.25"/>
<circle cx="363.8" cy="173.8" r="1.25"/>
<circle cx="366.8" cy="170.1" r="1.25"/>
<circle cx="368.5" cy="170.6" r="1.25"/>
<circle cx="366.3" cy="163.9" r="1.25"/>
<circle cx="358.3" cy="173.6" r="1.25"/>
<circle cx="360.9" cy="163.8" r="1.25"/>
<circle cx="358.7" cy="175.0" r="1.25"/>
<circle cx="367.5" cy="170.5" r="1.25"/>
<circle cx="358.4" cy="169.1" r="1.25"/>
<circle cx="357.5" cy="168.2" r="1.25"/>
<circle cx="360.9" cy="166.8" r="1.25"/>
<circle cx="364.4" cy="160.6" r="1.25"/>
<circle cx="367.8" cy="162.6" r="1.25"/>
<circle cx="365.4" cy="164.1" r="1.25"/>
<circle cx="364.6" cy="171.8" r="1.25"/>
<circle cx="360.1" cy="173.0" r="1.25"/>
<circle cx="364.2" cy="171.4" r="1.25"/>
<circle cx="357.9" cy="170.0" r="1.25"/>
<circle cx="358.3" cy="172.6" r="1.25"/>
<circle cx="364.8" cy="167.2" r="1.25"/>
<circle cx="364.9" cy="173.0" r="1.25"/>
<circle cx="369.9" cy="174.8" r="1.25"/>
<circle cx="361.6" cy="163.0" r="1.25"/>
<circle cx="363.5" cy="166.0" r="1.25"/>
<circle cx="366.0" cy="166.8" r="1.25"/>
<circle cx="368.6" cy="159.4" r="1.25"/>
<circle cx="366.7" cy="167.9" r="1.25"/>
<circle cx="374.3" cy="158.2" r="1.25"/>
<circle cx="380.4" cy="162.3" r="1.25"/>
<circle cx="375.7" cy="174.8" r="1.25"/>
<circle cx="381.8" cy="174.2" r="1.25"/>
<circle cx="381.0" cy="161.1" r="1.25"/>
<circle cx="364.2" cy="171.3" r="1.25"/>
<circle cx="381.0" cy="163.8" r="1.25"/>
<circle cx="369.0" cy="165.6" r="1.25"/>
<circle cx="389.7" cy="165.5" r="1.25"/>
<circle cx="363.2" cy="172.5" r="1.25"/>
<circle cx="383.6" cy="162.5" r="1.25"/>
<circle cx="361.0" cy="168.9" r="1.25"/>
<circle cx="372.8" cy="173.5" r="1.25"/>
<circle cx="383.3" cy="172.7" r="1.25"/>
<circle cx="361.7" cy="162.7" r="1.25"/>
<circle cx="374.0" cy="158.5" r="1.25"/>
<circle cx="358.2" cy="167.9" r="1.25"/>
<circle cx="388.2" cy="170.4" r="1.25"/>
<circle cx="381.3" cy="172.2" r="1.25"/>
<circle cx="384.8" cy="160.9" r="1.25"/>
<circle cx="364.5" cy="158.6" r="1.25"/>
<circle cx="357.8" cy="169.7" r="1.25"/>
<circle cx="372.6" cy="172.6" r="1.25"/>
<circle cx="374.9" cy="160.2" r="1.25"/>
<circle cx="377.8" cy="166.6" r="1.25"/>
<circle cx="378.3" cy="160.7" r="1.25"/>
<circle cx="386.9" cy="164.5" r="1.25"/>
<circle cx="376.7" cy="158.7" r="1.25"/>
<circle cx="372.3" cy="167.2" r="1.25"/>
<circle cx="380.5" cy="159.7" r="1.25"/>
<circle cx="381.0" cy="165.9" r="1.25"/>
<circle cx="370.5" cy="168.7" r="1.25"/>
<circle cx="365.3" cy="167.1" r="1.25"/>
<circle cx="372.8" cy="173.2" r="1.25"/>
<circle cx="377.0" cy="159.4" r="1.25"/>
<circle cx="389.6" cy="168.8" r="1.25"/>
<circle cx="383.1" cy="170.5" r="1.25"/>
<circle cx="381.6" cy="159.5" r="1.25"/>
<circle cx="389.2" cy="167.0" r="1.25"/>
<circle cx="359.1" cy="173.3" r="1.25"/>
<circle cx="364.6" cy="173.4" r="1.25"/>
<circle cx="378.3" cy="163.2" r="1.25"/>
<circle cx="362.5" cy="168.2" r="1.25"/>
<circle cx="360.9" cy="167.9" r="1.25"/>
<circle cx="363.6" cy="153.5" r="1.25"/>
<circle cx="374.1" cy="170.4" r="1.25"/>
<circle cx="386.4" cy="165.0" r="1.25"/>
<circle cx="385.2" cy="173.0" r="1.25"/>
<circle cx="373.8" cy="166.8" r="1.25"/>
<circle cx="383.5" cy="160.3" r="1.25"/>
<circle cx="375.2" cy="162.5" r="1.25"/>
<circle cx="357.7" cy="149.6" r="1.25"/>
<circle cx="384.5" cy="168.7" r="1.25"/>
<circle cx="361.5" cy="154.1" r="1.25"/>
<circle cx="371.4" cy="174.7" r="1.25"/>
<circle cx="375.2" cy="156.3" r="1.25"/>
<circle cx="381.2" cy="173.1" r="1.25"/>
<circle cx="360.8" cy="155.9" r="1.25"/>
<circle cx="382.3" cy="168.8" r="1.25"/>
<circle cx="389.3" cy="166.6" r="1.25"/>
<circle cx="359.9" cy="166.4" r="1.25"/>
<circle cx="377.0" cy="165.0" r="1.25"/>
<circle cx="370.7" cy="167.1" r="1.25"/>
<circle cx="387.3" cy="173.2" r="1.25"/>
<circle cx="387.2" cy="172.4" r="1.25"/>
<circle cx="358.5" cy="171.3" r="1.25"/>
<circle cx="371.5" cy="157.5" r="1.25"/>
<circle cx="388.1" cy="172.1" r="1.25"/>
<circle cx="365.7" cy="157.0" r="1.25"/>
<circle cx="368.0" cy="160.0" r="1.25"/>
<circle cx="389.4" cy="174.7" r="1.25"/>
<circle cx="382.3" cy="175.2" r="1.25"/>
<circle cx="382.0" cy="163.1" r="1.25"/>
<circle cx="370.9" cy="155.7" r="1.25"/>
<circle cx="386.3" cy="168.3" r="1.25"/>
<circle cx="382.5" cy="173.8" r="1.25"/>
<circle cx="383.3" cy="162.6" r="1.25"/>
<circle cx="384.3" cy="170.0" r="1.25"/>
<circle cx="369.4" cy="174.5" r="1.25"/>
<circle cx="362.7" cy="165.8" r="1.25"/>
<circle cx="375.0" cy="164.2" r="1.25"/>
<circle cx="387.2" cy="175.0" r="1.25"/>
<circle cx="360.4" cy="155.0" r="1.25"/>
<circle cx="387.0" cy="165.3" r="1.25"/>
<circle cx="380.8" cy="163.5" r="1.25"/>
<circle cx="371.7" cy="168.4" r="1.25"/>
<circle cx="381.7" cy="164.4" r="1.25"/>
<circle cx="365.9" cy="166.3" r="1.25"/>
<circle cx="364.3" cy="174.3" r="1.25"/>
<circle cx="378.4" cy="169.2" r="1.25"/>
<circle cx="376.9" cy="162.5" r="1.25"/>
<circle cx="359.6" cy="146.7" r="1.25"/>
<circle cx="369.2" cy="152.0" r="1.25"/>
<circle cx="373.5" cy="169.1" r="1.25"/>
<circle cx="366.4" cy="154.0" r="1.25"/>
<circle cx="360.8" cy="158.7" r="1.25"/>
<circle cx="379.9" cy="170.7" r="1.25"/>
<circle cx="360.6" cy="158.5" r="1.25"/>
<circle cx="384.5" cy="172.7" r="1.25"/>
<circle cx="364.9" cy="170.2" r="1.25"/>
<circle cx="379.3" cy="157.3" r="1.25"/>
<circle cx="363.7" cy="153.7" r="1.25"/>
<circle cx="378.9" cy="169.5" r="1.25"/>
<circle cx="363.4" cy="149.4" r="1.25"/>
<circle cx="389.4" cy="171.8" r="1.25"/>
<circle cx="376.0" cy="155.8" r="1.25"/>
<circle cx="358.0" cy="152.8" r="1.25"/>
<circle cx="388.8" cy="172.3" r="1.25"/>
<circle cx="367.5" cy="139.4" r="1.25"/>
<circle cx="376.0" cy="138.0" r="1.25"/>
<circle cx="374.5" cy="137.4" r="1.25"/>
<circle cx="372.4" cy="142.9" r="1.25"/>
<circle cx="367.8" cy="148.8" r="1.25"/>
<circle cx="371.2" cy="149.3" r="1.25"/>
<circle cx="381.1" cy="148.7" r="1.25"/>
<circle cx="385.5" cy="155.7" r="1.25"/>
<circle cx="393.3" cy="148.2" r="1.25"/>
<circle cx="396.0" cy="156.1" r="1.25"/>
<circle cx="383.6" cy="161.3" r="1.25"/>
<circle cx="388.6" cy="156.1" r="1.25"/>
<circle cx="395.0" cy="160.3" r="1.25"/>
<circle cx="389.6" cy="171.2" r="1.25"/>
<circle cx="394.0" cy="175.0" r="1.25"/>
<circle cx="396.0" cy="173.3" r="1.25"/>
<circle cx="403.0" cy="175.5" r="1.25"/>
<circle cx="401.7" cy="174.6" r="1.25"/>
<circle cx="408.3" cy="50.1" r="1.25"/>
<circle cx="396.4" cy="77.8" r="1.25"/>
<circle cx="380.6" cy="101.7" r="1.25"/>
<circle cx="384.6" cy="101.7" r="1.25"/>
<circle cx="408.7" cy="106.4" r="1.25"/>
<circle cx="372.9" cy="115.0" r="1.25"/>
<circle cx="388.1" cy="113.2" r="1.25"/>
<circle cx="383.2" cy="122.7" r="1.25"/>
<circle cx="377.1" cy="125.1" r="1.25"/>
<circle cx="380.4" cy="132.6" r="1.25"/>
<circle cx="367.6" cy="139.6" r="1.25"/>
<circle cx="376.4" cy="137.2" r="1.25"/>
<circle cx="441.8" cy="169.9" r="1.25"/>
<circle cx="422.0" cy="173.4" r="1.25"/>
<circle cx="401.7" cy="174.6" r="1.25"/>
<circle cx="394.0" cy="170.0" r="1.25"/>
<circle cx="396.0" cy="166.0" r="1.25"/>
<circle cx="390.0" cy="150.0" r="1.25"/>
<circle cx="387.0" cy="146.0" r="1.25"/>
<circle cx="392.0" cy="145.0" r="1.25"/>
<circle cx="395.0" cy="153.0" r="1.25"/>
</g>
</g>
<line x1="328.54" y1="16.50" x2="328.54" y2="181.50" stroke="#9a9a9a" stroke-width="0.9" stroke-dasharray="1.2,2.2"/>
<line x1="357.06" y1="16.50" x2="357.06" y2="181.50" stroke="#9a9a9a" stroke-width="0.9" stroke-dasharray="1.2,2.2"/>
<line x1="264.50" y1="175.20" x2="450.50" y2="175.20" stroke="#9a9a9a" stroke-width="0.9" stroke-dasharray="1.2,2.2"/>
<rect x="264.5" y="16.5" width="186.0" height="165.0" fill="none" stroke="#666" stroke-width="1"/>
<line x1="262.00" y1="175.20" x2="264.50" y2="175.20" stroke="#333" stroke-width="0.8" />
<text x="260.20" y="177.90" font-size="7.6" fill="#111" stroke="#111" stroke-width="0.22" text-anchor="end" font-weight="normal" >0</text>
<line x1="262.00" y1="126.30" x2="264.50" y2="126.30" stroke="#333" stroke-width="0.8" />
<text x="260.20" y="129.00" font-size="7.6" fill="#111" stroke="#111" stroke-width="0.22" text-anchor="end" font-weight="normal" >80</text>
<line x1="262.00" y1="77.40" x2="264.50" y2="77.40" stroke="#333" stroke-width="0.8" />
<text x="260.20" y="80.10" font-size="7.6" fill="#111" stroke="#111" stroke-width="0.22" text-anchor="end" font-weight="normal" >160</text>
<line x1="262.00" y1="28.50" x2="264.50" y2="28.50" stroke="#333" stroke-width="0.8" />
<text x="260.20" y="31.20" font-size="7.6" fill="#111" stroke="#111" stroke-width="0.22" text-anchor="end" font-weight="normal" >240</text>
<line x1="271.50" y1="181.50" x2="271.50" y2="184.00" stroke="#333" stroke-width="0.8" />
<text x="271.50" y="191.90" font-size="7.6" fill="#111" stroke="#111" stroke-width="0.22" text-anchor="middle" font-weight="normal" >-5</text>
<line x1="342.80" y1="181.50" x2="342.80" y2="184.00" stroke="#333" stroke-width="0.8" />
<text x="342.80" y="191.90" font-size="7.6" fill="#111" stroke="#111" stroke-width="0.22" text-anchor="middle" font-weight="normal" >0</text>
<line x1="414.10" y1="181.50" x2="414.10" y2="184.00" stroke="#333" stroke-width="0.8" />
<text x="414.10" y="191.90" font-size="7.6" fill="#111" stroke="#111" stroke-width="0.22" text-anchor="middle" font-weight="normal" >5</text>
<text transform="translate(241.40,99.00) rotate(-90)" font-size="7.8" fill="#111" stroke="#111" stroke-width="0.22" text-anchor="middle">-log<tspan font-size="5.4" dy="1.8">10</tspan><tspan dy="-1.8">(p-value)</tspan></text>
<text x="357.50" y="203.10" font-size="7.6" fill="#111" stroke="#111" stroke-width="0.22" text-anchor="middle">log<tspan font-size="5.3" dy="1.8">2</tspan><tspan dy="-1.8">(FoldChange)</tspan></text>
<text x="285.90" y="10.90" font-size="7.3" fill="#111" stroke="#111" stroke-width="0.22">2×MIC vs Control:p-value&lt;0.05 &amp; |log<tspan font-size="5.1" dy="1.6">2</tspan><tspan dy="-1.6">FC|&gt;1</tspan></text>
<circle cx="271.5" cy="24.9" r="1.3" fill="#1f3dff"/>
<text x="278.30" y="26.90" font-size="6.2" fill="#222" stroke="#222" stroke-width="0.22" text-anchor="start" font-weight="normal" >Significant Down</text>
<circle cx="335.6" cy="24.9" r="1.1" fill="#555"/>
<text x="341.90" y="26.90" font-size="6.2" fill="#222" stroke="#222" stroke-width="0.22" text-anchor="start" font-weight="normal" >Non-Significant</text>
<circle cx="401.8" cy="24.9" r="1.3" fill="#1fa81f"/>
<text x="408.80" y="26.90" font-size="6.2" fill="#222" stroke="#222" stroke-width="0.22" text-anchor="start" font-weight="normal" >Significant Up</text>
<text x="270.10" y="36.80" font-size="6.3" fill="#4a78e6" stroke="#4a78e6" stroke-width="0.22" text-anchor="start" font-weight="normal" >p&lt;0.05</text>
<text x="270.10" y="45.20" font-size="6.3" fill="#4a78e6" stroke="#4a78e6" stroke-width="0.22">log<tspan font-size="4.4" dy="1.5">2</tspan><tspan dy="-1.5">FC&lt;-1</tspan></text>
<text x="270.10" y="53.60" font-size="6.3" fill="#4a78e6" stroke="#4a78e6" stroke-width="0.22" text-anchor="start" font-weight="normal" >Sig.: 44</text>
<text x="447.30" y="37.20" font-size="6.3" fill="#5cc24a" stroke="#5cc24a" stroke-width="0.22" text-anchor="end" font-weight="normal" >p&lt;0.05</text>
<text x="447.30" y="45.60" font-size="6.3" fill="#5cc24a" stroke="#5cc24a" stroke-width="0.22" text-anchor="end">log<tspan font-size="4.4" dy="1.5">2</tspan><tspan dy="-1.5">FC&gt;1</tspan></text>
<text x="447.30" y="54.00" font-size="6.3" fill="#5cc24a" stroke="#5cc24a" stroke-width="0.22" text-anchor="end" font-weight="normal" >Sig.: 258</text>
<defs>
<linearGradient id="gG" x1="0" x2="1" y1="0" y2="0">
<stop offset="0" stop-color="#3c7a3c"/><stop offset="0.12" stop-color="#5f9f5f"/><stop offset="0.3" stop-color="#a6e2a0"/><stop offset="0.55" stop-color="#9ada94"/><stop offset="0.85" stop-color="#6aa86a"/><stop offset="1" stop-color="#3a6e3a"/></linearGradient>
<linearGradient id="gB" x1="0" x2="1" y1="0" y2="0">
<stop offset="0" stop-color="#3553a0"/><stop offset="0.12" stop-color="#5a7cc8"/><stop offset="0.3" stop-color="#a2c0f4"/><stop offset="0.55" stop-color="#96b6ee"/><stop offset="0.85" stop-color="#6684c8"/><stop offset="1" stop-color="#34519a"/></linearGradient>
<linearGradient id="gO" x1="0" x2="1" y1="0" y2="0">
<stop offset="0" stop-color="#94451c"/><stop offset="0.12" stop-color="#c0753f"/><stop offset="0.3" stop-color="#f2c48e"/><stop offset="0.55" stop-color="#ecbb86"/><stop offset="0.85" stop-color="#c07a48"/><stop offset="1" stop-color="#8e4218"/></linearGradient>
</defs>
<line x1="513.60" y1="22.50" x2="513.60" y2="171.50" stroke="#444" stroke-width="1" />
<line x1="513.60" y1="171.50" x2="675.80" y2="171.50" stroke="#444" stroke-width="1" />
<line x1="511.00" y1="171.50" x2="513.60" y2="171.50" stroke="#444" stroke-width="0.9" />
<text x="509.40" y="174.00" font-size="8" fill="#111" stroke="#111" stroke-width="0.22" text-anchor="end" font-weight="normal" >0</text>
<line x1="511.00" y1="141.70" x2="513.60" y2="141.70" stroke="#444" stroke-width="0.9" />
<text x="509.40" y="144.20" font-size="8" fill="#111" stroke="#111" stroke-width="0.22" text-anchor="end" font-weight="normal" >200</text>
<line x1="511.00" y1="111.90" x2="513.60" y2="111.90" stroke="#444" stroke-width="0.9" />
<text x="509.40" y="114.40" font-size="8" fill="#111" stroke="#111" stroke-width="0.22" text-anchor="end" font-weight="normal" >400</text>
<line x1="511.00" y1="82.10" x2="513.60" y2="82.10" stroke="#444" stroke-width="0.9" />
<text x="509.40" y="84.60" font-size="8" fill="#111" stroke="#111" stroke-width="0.22" text-anchor="end" font-weight="normal" >600</text>
<line x1="511.00" y1="52.30" x2="513.60" y2="52.30" stroke="#444" stroke-width="0.9" />
<text x="509.40" y="54.80" font-size="8" fill="#111" stroke="#111" stroke-width="0.22" text-anchor="end" font-weight="normal" >800</text>
<line x1="511.00" y1="22.50" x2="513.60" y2="22.50" stroke="#444" stroke-width="0.9" />
<text x="509.40" y="25.00" font-size="8" fill="#111" stroke="#111" stroke-width="0.22" text-anchor="end" font-weight="normal" >1000</text>
<line x1="554.40" y1="171.50" x2="554.40" y2="174.10" stroke="#444" stroke-width="0.9" />
<line x1="594.50" y1="171.50" x2="594.50" y2="174.10" stroke="#444" stroke-width="0.9" />
<line x1="635.10" y1="171.50" x2="635.10" y2="174.10" stroke="#444" stroke-width="0.9" />
<line x1="675.80" y1="171.50" x2="675.80" y2="174.10" stroke="#444" stroke-width="0.9" />
<rect x="534.00" y="90.15" width="13.50" height="81.35" fill="url(#gG)" stroke="#555" stroke-width="0.5"/>
<text x="540.75" y="88.55" font-size="7.1" fill="#5cc85a"  text-anchor="middle" font-weight="bold" >546</text>
<rect x="547.50" y="120.69" width="13.50" height="50.81" fill="url(#gB)" stroke="#555" stroke-width="0.5"/>
<text x="554.25" y="119.09" font-size="7.1" fill="#3a5cf0"  text-anchor="middle" font-weight="bold" >341</text>
<rect x="561.00" y="39.34" width="13.50" height="132.16" fill="url(#gO)" stroke="#555" stroke-width="0.5"/>
<text x="567.75" y="37.74" font-size="7.1" fill="#f0872e"  text-anchor="middle" font-weight="bold" >887</text>
<rect x="614.90" y="133.06" width="13.50" height="38.44" fill="url(#gG)" stroke="#555" stroke-width="0.5"/>
<text x="621.65" y="131.46" font-size="7.1" fill="#5cc85a"  text-anchor="middle" font-weight="bold" >258</text>
<rect x="628.40" y="164.94" width="13.50" height="6.56" fill="url(#gB)" stroke="#555" stroke-width="0.5"/>
<text x="635.15" y="163.34" font-size="7.1" fill="#3a5cf0"  text-anchor="middle" font-weight="bold" >44</text>
<rect x="641.90" y="126.50" width="13.50" height="45.00" fill="url(#gO)" stroke="#555" stroke-width="0.5"/>
<text x="648.65" y="124.90" font-size="7.1" fill="#f0872e"  text-anchor="middle" font-weight="bold" >302</text>
<text x="554.40" y="181.30" font-size="7.6" fill="#111" stroke="#111" stroke-width="0.22" text-anchor="middle" font-weight="normal" >4×MIC vs Control</text>
<text x="635.10" y="181.30" font-size="7.6" fill="#111" stroke="#111" stroke-width="0.22" text-anchor="middle" font-weight="normal" >2×MIC vs Control</text>
<text transform="translate(486.9,98.1) rotate(-90)" font-size="7.35" fill="#111" stroke="#111" stroke-width="0.22" text-anchor="middle">Differently expressed gene number</text>
<rect x="604.4" y="30.30" width="15" height="6.6" fill="url(#gG)" stroke="#555" stroke-width="0.4"/>
<text x="621.60" y="36.30" font-size="7.5" fill="#111" stroke="#111" stroke-width="0.22" text-anchor="start" font-weight="normal" >Up</text>
<rect x="604.4" y="38.50" width="15" height="6.6" fill="url(#gB)" stroke="#555" stroke-width="0.4"/>
<text x="621.60" y="44.50" font-size="7.5" fill="#111" stroke="#111" stroke-width="0.22" text-anchor="start" font-weight="normal" >Down</text>
<rect x="604.4" y="46.70" width="15" height="6.6" fill="url(#gO)" stroke="#555" stroke-width="0.4"/>
<text x="621.60" y="52.70" font-size="7.5" fill="#111" stroke="#111" stroke-width="0.22" text-anchor="start" font-weight="normal" >Total</text>
<rect x="267.20" y="222.80" width="31.20" height="12.44" fill="#ee8f97" />
<rect x="297.90" y="222.80" width="31.40" height="12.44" fill="#f0a5ab" />
<line x1="264.20" y1="228.52" x2="267.20" y2="228.52" stroke="#444" stroke-width="0.8" />
<text x="263.00" y="231.92" font-size="9.42" fill="#111" stroke="#111" stroke-width="0.22" text-anchor="end" font-weight="normal" >ABC transporter ATP-binding protein</text>
<rect x="267.20" y="234.24" width="31.20" height="12.44" fill="#ee848c" />
<rect x="297.90" y="234.24" width="31.40" height="12.44" fill="#f2acb2" />
<line x1="264.20" y1="239.96" x2="267.20" y2="239.96" stroke="#444" stroke-width="0.8" />
<text x="263.00" y="243.36" font-size="9.42" fill="#111" stroke="#111" stroke-width="0.22" text-anchor="end" font-weight="normal" >Acyltransferase family protein</text>
<rect x="267.20" y="245.68" width="31.20" height="12.44" fill="#ee8c94" />
<rect x="297.90" y="245.68" width="31.40" height="12.44" fill="#f2aab0" />
<line x1="264.20" y1="251.40" x2="267.20" y2="251.40" stroke="#444" stroke-width="0.8" />
<text x="263.00" y="254.80" font-size="9.42" fill="#111" stroke="#111" stroke-width="0.22" text-anchor="end" font-weight="normal" >Arginine repressor</text>
<rect x="267.20" y="257.12" width="31.20" height="12.44" fill="#ee8c94" />
<rect x="297.90" y="257.12" width="31.40" height="12.44" fill="#f2aab0" />
<line x1="264.20" y1="262.84" x2="267.20" y2="262.84" stroke="#444" stroke-width="0.8" />
<text x="263.00" y="266.24" font-size="9.42" fill="#111" stroke="#111" stroke-width="0.22" text-anchor="end" font-weight="normal" >Bacteriocin-associated integral membrane family protein</text>
<rect x="267.20" y="268.57" width="31.20" height="12.44" fill="#f4cbd0" />
<rect x="297.90" y="268.57" width="31.40" height="12.44" fill="#f5d5d9" />
<line x1="264.20" y1="274.29" x2="267.20" y2="274.29" stroke="#444" stroke-width="0.8" />
<text x="263.00" y="277.69" font-size="9.42" fill="#111" stroke="#111" stroke-width="0.22" text-anchor="end" font-weight="normal" >Bifunctional lysylphosphatidylglycerol flippase/synthetase MprF</text>
<rect x="267.20" y="280.01" width="31.20" height="12.44" fill="#ee7f87" />
<rect x="297.90" y="280.01" width="31.40" height="12.44" fill="#f09ea5" />
<line x1="264.20" y1="285.73" x2="267.20" y2="285.73" stroke="#444" stroke-width="0.8" />
<text x="263.00" y="289.13" font-size="9.42" fill="#111" stroke="#111" stroke-width="0.22" text-anchor="end" font-weight="normal" >C1q-binding complement inhibitor VraX</text>
<rect x="267.20" y="291.45" width="31.20" height="12.44" fill="#f2b0b6" />
<rect x="297.90" y="291.45" width="31.40" height="12.44" fill="#f5d5d9" />
<line x1="264.20" y1="297.17" x2="267.20" y2="297.17" stroke="#444" stroke-width="0.8" />
<text x="263.00" y="300.57" font-size="9.42" fill="#111" stroke="#111" stroke-width="0.22" text-anchor="end" font-weight="normal" >CcdC family protein</text>
<rect x="267.20" y="302.89" width="31.20" height="12.44" fill="#f4424a" />
<rect x="297.90" y="302.89" width="31.40" height="12.44" fill="#f0676f" />
<line x1="264.20" y1="308.61" x2="267.20" y2="308.61" stroke="#444" stroke-width="0.8" />
<text x="263.00" y="312.01" font-size="9.42" fill="#111" stroke="#111" stroke-width="0.22" text-anchor="end" font-weight="normal" >Cell wall inhibition responsive protein CwrA</text>
<rect x="267.20" y="314.33" width="31.20" height="12.44" fill="#f5d2d6" />
<rect x="297.90" y="314.33" width="31.40" height="12.44" fill="#f5dade" />
<line x1="264.20" y1="320.05" x2="267.20" y2="320.05" stroke="#444" stroke-width="0.8" />
<text x="263.00" y="323.45" font-size="9.42" fill="#111" stroke="#111" stroke-width="0.22" text-anchor="end" font-weight="normal" >CHAP domain-containing protein</text>
<rect x="267.20" y="325.77" width="31.20" height="12.44" fill="#ee8f97" />
<rect x="297.90" y="325.77" width="31.40" height="12.44" fill="#f2a8ae" />
<line x1="264.20" y1="331.49" x2="267.20" y2="331.49" stroke="#444" stroke-width="0.8" />
<text x="263.00" y="334.89" font-size="9.42" fill="#111" stroke="#111" stroke-width="0.22" text-anchor="end" font-weight="normal" >Complement inhibitor SCIN-A</text>
<rect x="267.20" y="337.21" width="31.20" height="12.44" fill="#ef9aa1" />
<rect x="297.90" y="337.21" width="31.40" height="12.44" fill="#f4c5ca" />
<line x1="264.20" y1="342.93" x2="267.20" y2="342.93" stroke="#444" stroke-width="0.8" />
<text x="263.00" y="346.33" font-size="9.42" fill="#111" stroke="#111" stroke-width="0.22" text-anchor="end" font-weight="normal" >Copper-sensing transcriptional repressor CsoR</text>
<rect x="267.20" y="348.66" width="31.20" height="12.44" fill="#f2b0b6" />
<rect x="297.90" y="348.66" width="31.40" height="12.44" fill="#f3bfc4" />
<line x1="264.20" y1="354.38" x2="267.20" y2="354.38" stroke="#444" stroke-width="0.8" />
<text x="263.00" y="357.78" font-size="9.42" fill="#111" stroke="#111" stroke-width="0.22" text-anchor="end" font-weight="normal" >CsbD family protein</text>
<rect x="267.20" y="360.10" width="31.20" height="12.44" fill="#f0a0a7" />
<rect x="297.90" y="360.10" width="31.40" height="12.44" fill="#f4c6cb" />
<line x1="264.20" y1="365.82" x2="267.20" y2="365.82" stroke="#444" stroke-width="0.8" />
<text x="263.00" y="369.22" font-size="9.42" fill="#111" stroke="#111" stroke-width="0.22" text-anchor="end" font-weight="normal" >Deoxynucleoside kinase</text>
<rect x="267.20" y="371.54" width="31.20" height="12.44" fill="#f0676f" />
<rect x="297.90" y="371.54" width="31.40" height="12.44" fill="#f0969d" />
<line x1="264.20" y1="377.26" x2="267.20" y2="377.26" stroke="#444" stroke-width="0.8" />
<text x="263.00" y="380.66" font-size="9.42" fill="#111" stroke="#111" stroke-width="0.22" text-anchor="end" font-weight="normal" >DNA damage-induced cell division inhibitor SosA</text>
<rect x="267.20" y="382.98" width="31.20" height="12.44" fill="#f2b5bb" />
<rect x="297.90" y="382.98" width="31.40" height="12.44" fill="#f5d5d9" />
<line x1="264.20" y1="388.70" x2="267.20" y2="388.70" stroke="#444" stroke-width="0.8" />
<text x="263.00" y="392.10" font-size="9.42" fill="#111" stroke="#111" stroke-width="0.22" text-anchor="end" font-weight="normal" >Dps family protein</text>
<rect x="267.20" y="394.42" width="31.20" height="12.44" fill="#ee9098" />
<rect x="297.90" y="394.42" width="31.40" height="12.44" fill="#f2adb3" />
<line x1="264.20" y1="400.14" x2="267.20" y2="400.14" stroke="#444" stroke-width="0.8" />
<text x="263.00" y="403.54" font-size="9.42" fill="#111" stroke="#111" stroke-width="0.22" text-anchor="end" font-weight="normal" >Fibronectin-binding protein FnbA</text>
<rect x="267.20" y="405.86" width="31.20" height="12.44" fill="#f2abb1" />
<rect x="297.90" y="405.86" width="31.40" height="12.44" fill="#f4c6ca" />
<line x1="264.20" y1="411.58" x2="267.20" y2="411.58" stroke="#444" stroke-width="0.8" />
<text x="263.00" y="414.98" font-size="9.42" fill="#111" stroke="#111" stroke-width="0.22" text-anchor="end" font-weight="normal" >Fibronectin-binding protein FnbB</text>
<rect x="267.20" y="417.30" width="31.20" height="12.44" fill="#f2abb1" />
<rect x="297.90" y="417.30" width="31.40" height="12.44" fill="#f4c8cc" />
<line x1="264.20" y1="423.02" x2="267.20" y2="423.02" stroke="#444" stroke-width="0.8" />
<text x="263.00" y="426.42" font-size="9.42" fill="#111" stroke="#111" stroke-width="0.22" text-anchor="end" font-weight="normal" >Fic family protein</text>
<rect x="267.20" y="428.74" width="31.20" height="12.44" fill="#f2abb1" />
<rect x="297.90" y="428.74" width="31.40" height="12.44" fill="#f3b8bd" />
<line x1="264.20" y1="434.47" x2="267.20" y2="434.47" stroke="#444" stroke-width="0.8" />
<text x="263.00" y="437.87" font-size="9.42" fill="#111" stroke="#111" stroke-width="0.22" text-anchor="end" font-weight="normal" >Flippase GtxA</text>
<rect x="267.20" y="440.19" width="31.20" height="12.44" fill="#ee969d" />
<rect x="297.90" y="440.19" width="31.40" height="12.44" fill="#f2b0b6" />
<line x1="264.20" y1="445.91" x2="267.20" y2="445.91" stroke="#444" stroke-width="0.8" />
<text x="263.00" y="449.31" font-size="9.42" fill="#111" stroke="#111" stroke-width="0.22" text-anchor="end" font-weight="normal" >Foldase protein PrsA</text>
<rect x="267.20" y="451.63" width="31.20" height="12.44" fill="#f0a3a9" />
<rect x="297.90" y="451.63" width="31.40" height="12.44" fill="#f4cdd1" />
<line x1="264.20" y1="457.35" x2="267.20" y2="457.35" stroke="#444" stroke-width="0.8" />
<text x="263.00" y="460.75" font-size="9.42" fill="#111" stroke="#111" stroke-width="0.22" text-anchor="end" font-weight="normal" >Global transcriptional regulator SarA</text>
<rect x="267.20" y="463.07" width="31.20" height="12.44" fill="#f4c5ca" />
<rect x="297.90" y="463.07" width="31.40" height="12.44" fill="#f5d5d9" />
<line x1="264.20" y1="468.79" x2="267.20" y2="468.79" stroke="#444" stroke-width="0.8" />
<text x="263.00" y="472.19" font-size="9.42" fill="#111" stroke="#111" stroke-width="0.22" text-anchor="end" font-weight="normal" >Glycerate kinase</text>
<rect x="267.20" y="474.51" width="31.20" height="12.44" fill="#f4c5ca" />
<rect x="297.90" y="474.51" width="31.40" height="12.44" fill="#f5dadd" />
<line x1="264.20" y1="480.23" x2="267.20" y2="480.23" stroke="#444" stroke-width="0.8" />
<text x="263.00" y="483.63" font-size="9.42" fill="#111" stroke="#111" stroke-width="0.22" text-anchor="end" font-weight="normal" >GNAT family N-acetyltransferase</text>
<rect x="267.20" y="485.95" width="31.20" height="12.44" fill="#f4cbd0" />
<rect x="297.90" y="485.95" width="31.40" height="12.44" fill="#f5dadd" />
<line x1="264.20" y1="491.67" x2="267.20" y2="491.67" stroke="#444" stroke-width="0.8" />
<text x="263.00" y="495.07" font-size="9.42" fill="#111" stroke="#111" stroke-width="0.22" text-anchor="end" font-weight="normal" >Helix-turn-helix transcriptional regulator</text>
<rect x="267.20" y="497.39" width="31.20" height="12.44" fill="#f2b0b6" />
<rect x="297.90" y="497.39" width="31.40" height="12.44" fill="#f5dadd" />
<line x1="264.20" y1="503.11" x2="267.20" y2="503.11" stroke="#444" stroke-width="0.8" />
<text x="263.00" y="506.51" font-size="9.42" fill="#111" stroke="#111" stroke-width="0.22" text-anchor="end" font-weight="normal" >Holin-like murein hydrolase modulator CidA</text>
<rect x="267.20" y="508.83" width="31.20" height="12.44" fill="#ee8890" />
<rect x="297.90" y="508.83" width="31.40" height="12.44" fill="#f2a8ae" />
<line x1="264.20" y1="514.56" x2="267.20" y2="514.56" stroke="#444" stroke-width="0.8" />
<text x="263.00" y="517.96" font-size="9.42" fill="#111" stroke="#111" stroke-width="0.22" text-anchor="end" font-weight="normal" >Hsp20 family protein</text>
<rect x="267.20" y="520.28" width="31.20" height="12.44" fill="#ef9199" />
<rect x="297.90" y="520.28" width="31.40" height="12.44" fill="#f4c3c8" />
<line x1="264.20" y1="526.00" x2="267.20" y2="526.00" stroke="#444" stroke-width="0.8" />
<text x="263.00" y="529.40" font-size="9.42" fill="#111" stroke="#111" stroke-width="0.22" text-anchor="end" font-weight="normal" >LCP family protein</text>
<rect x="267.20" y="531.72" width="31.20" height="12.44" fill="#f4c0c5" />
<rect x="297.90" y="531.72" width="31.40" height="12.44" fill="#f5d5d9" />
<line x1="264.20" y1="537.44" x2="267.20" y2="537.44" stroke="#444" stroke-width="0.8" />
<text x="263.00" y="540.84" font-size="9.42" fill="#111" stroke="#111" stroke-width="0.22" text-anchor="end" font-weight="normal" >Lytic transglycosylase SceD</text>
<rect x="267.20" y="543.16" width="31.20" height="11.44" fill="#f5d5d9" />
<rect x="297.90" y="543.16" width="31.40" height="11.44" fill="#f5d5d9" />
<line x1="264.20" y1="548.88" x2="267.20" y2="548.88" stroke="#444" stroke-width="0.8" />
<text x="263.00" y="552.28" font-size="9.42" fill="#111" stroke="#111" stroke-width="0.22" text-anchor="end" font-weight="normal" >LytTR family DNA-binding domain-containing protein</text>
<rect x="267.2" y="222.8" width="62.10000000000002" height="331.8" fill="none" stroke="#8a8a8a" stroke-width="0.9" rx="1"/>
<rect x="333.60" y="222.80" width="31.90" height="12.08" fill="#f0a3a9" />
<rect x="365.00" y="222.80" width="30.90" height="12.08" fill="#f4c5ca" />
<line x1="395.90" y1="228.34" x2="398.90" y2="228.34" stroke="#444" stroke-width="0.8" />
<text x="400.50" y="231.64" font-size="9.45" fill="#111" stroke="#111" stroke-width="0.22" text-anchor="start" font-weight="normal" >MarR family transcriptional regulator</text>
<rect x="333.60" y="233.88" width="31.90" height="12.08" fill="#f5d8dc" />
<rect x="365.00" y="233.88" width="30.90" height="12.08" fill="#f5dce0" />
<line x1="395.90" y1="239.42" x2="398.90" y2="239.42" stroke="#444" stroke-width="0.8" />
<text x="400.50" y="242.72" font-size="9.45" fill="#111" stroke="#111" stroke-width="0.22" text-anchor="start" font-weight="normal" >Metal ABC transporter ATP-binding protein</text>
<rect x="333.60" y="244.96" width="31.90" height="12.08" fill="#f4cdd1" />
<rect x="365.00" y="244.96" width="30.90" height="12.08" fill="#f4cfd3" />
<line x1="395.90" y1="250.50" x2="398.90" y2="250.50" stroke="#444" stroke-width="0.8" />
<text x="400.50" y="253.80" font-size="9.45" fill="#111" stroke="#111" stroke-width="0.22" text-anchor="start" font-weight="normal" >Metal ABC transporter substrate-binding protein</text>
<rect x="333.60" y="256.04" width="31.90" height="12.08" fill="#f5d8dc" />
<rect x="365.00" y="256.04" width="30.90" height="12.08" fill="#f5dce0" />
<line x1="395.90" y1="261.58" x2="398.90" y2="261.58" stroke="#444" stroke-width="0.8" />
<text x="400.50" y="264.88" font-size="9.45" fill="#111" stroke="#111" stroke-width="0.22" text-anchor="start" font-weight="normal" >Methionine ABC transporter ATP-binding protein</text>
<rect x="333.60" y="267.12" width="31.90" height="12.08" fill="#ee9098" />
<rect x="365.00" y="267.12" width="30.90" height="12.08" fill="#f3b8bd" />
<line x1="395.90" y1="272.66" x2="398.90" y2="272.66" stroke="#444" stroke-width="0.8" />
<text x="400.50" y="275.96" font-size="9.45" fill="#111" stroke="#111" stroke-width="0.22" text-anchor="start" font-weight="normal" >Monofunctional peptidoglycan glycosyltransferase SgtB</text>
<rect x="333.60" y="278.20" width="31.90" height="12.08" fill="#f2abb1" />
<rect x="365.00" y="278.20" width="30.90" height="12.08" fill="#f5d8dc" />
<line x1="395.90" y1="283.74" x2="398.90" y2="283.74" stroke="#444" stroke-width="0.8" />
<text x="400.50" y="287.04" font-size="9.45" fill="#111" stroke="#111" stroke-width="0.22" text-anchor="start" font-weight="normal" >N-acetylglucosaminidase</text>
<rect x="333.60" y="289.28" width="31.90" height="12.08" fill="#f3bfc4" />
<rect x="365.00" y="289.28" width="30.90" height="12.08" fill="#f5dade" />
<line x1="395.90" y1="294.82" x2="398.90" y2="294.82" stroke="#444" stroke-width="0.8" />
<text x="400.50" y="298.12" font-size="9.45" fill="#111" stroke="#111" stroke-width="0.22" text-anchor="start" font-weight="normal" >N-acetyltransferase</text>
<rect x="333.60" y="300.36" width="31.90" height="12.08" fill="#f3bfc4" />
<rect x="365.00" y="300.36" width="30.90" height="12.08" fill="#f4c6cb" />
<line x1="395.90" y1="305.90" x2="398.90" y2="305.90" stroke="#444" stroke-width="0.8" />
<text x="400.50" y="309.20" font-size="9.45" fill="#111" stroke="#111" stroke-width="0.22" text-anchor="start" font-weight="normal" >PG:teichoic acid D-alanyltransferase DltB</text>
<rect x="333.60" y="311.44" width="31.90" height="12.08" fill="#ee6e76" />
<rect x="365.00" y="311.44" width="30.90" height="12.08" fill="#ef8a92" />
<line x1="395.90" y1="316.98" x2="398.90" y2="316.98" stroke="#444" stroke-width="0.8" />
<text x="400.50" y="320.28" font-size="9.45" fill="#111" stroke="#111" stroke-width="0.22" text-anchor="start" font-weight="normal" >Phospholipase</text>
<rect x="333.60" y="322.52" width="31.90" height="12.08" fill="#f3bcc1" />
<rect x="365.00" y="322.52" width="30.90" height="12.08" fill="#f5d8dc" />
<line x1="395.90" y1="328.06" x2="398.90" y2="328.06" stroke="#444" stroke-width="0.8" />
<text x="400.50" y="331.36" font-size="9.45" fill="#111" stroke="#111" stroke-width="0.22" text-anchor="start" font-weight="normal" >Preprotein translocase subunit YajC</text>
<rect x="333.60" y="333.60" width="31.90" height="12.08" fill="#f3bcc1" />
<rect x="365.00" y="333.60" width="30.90" height="12.08" fill="#f5d8dc" />
<line x1="395.90" y1="339.14" x2="398.90" y2="339.14" stroke="#444" stroke-width="0.8" />
<text x="400.50" y="342.44" font-size="9.45" fill="#111" stroke="#111" stroke-width="0.22" text-anchor="start" font-weight="normal" >Rrf2 family transcriptional regulator</text>
<rect x="333.60" y="344.68" width="31.90" height="12.08" fill="#f0a0a7" />
<rect x="365.00" y="344.68" width="30.90" height="12.08" fill="#f4c5ca" />
<line x1="395.90" y1="350.22" x2="398.90" y2="350.22" stroke="#444" stroke-width="0.8" />
<text x="400.50" y="353.52" font-size="9.45" fill="#111" stroke="#111" stroke-width="0.22" text-anchor="start" font-weight="normal" >SA1362 family protein</text>
<rect x="333.60" y="355.76" width="31.90" height="12.08" fill="#ee8890" />
<rect x="365.00" y="355.76" width="30.90" height="12.08" fill="#f2adb3" />
<line x1="395.90" y1="361.30" x2="398.90" y2="361.30" stroke="#444" stroke-width="0.8" />
<text x="400.50" y="364.60" font-size="9.45" fill="#111" stroke="#111" stroke-width="0.22" text-anchor="start" font-weight="normal" >Siderophore ABC transporter substrate-binding protein</text>
<rect x="333.60" y="366.84" width="31.90" height="12.08" fill="#ef9199" />
<rect x="365.00" y="366.84" width="30.90" height="12.08" fill="#f2adb3" />
<line x1="395.90" y1="372.38" x2="398.90" y2="372.38" stroke="#444" stroke-width="0.8" />
<text x="400.50" y="375.68" font-size="9.45" fill="#111" stroke="#111" stroke-width="0.22" text-anchor="start" font-weight="normal" >Teichoic acid D-Ala incorporation-associated protein DltX</text>
<rect x="333.60" y="377.92" width="31.90" height="12.08" fill="#f2aab0" />
<rect x="365.00" y="377.92" width="30.90" height="12.08" fill="#f4c5ca" />
<line x1="395.90" y1="383.46" x2="398.90" y2="383.46" stroke="#444" stroke-width="0.8" />
<text x="400.50" y="386.76" font-size="9.45" fill="#111" stroke="#111" stroke-width="0.22" text-anchor="start" font-weight="normal" >TetR/AcrR family transcriptional regulator</text>
<rect x="333.60" y="389.00" width="31.90" height="12.08" fill="#f4c8cc" />
<rect x="365.00" y="389.00" width="30.90" height="12.08" fill="#f5dade" />
<line x1="395.90" y1="394.54" x2="398.90" y2="394.54" stroke="#444" stroke-width="0.8" />
<text x="400.50" y="397.84" font-size="9.45" fill="#111" stroke="#111" stroke-width="0.22" text-anchor="start" font-weight="normal" >Thiol-disulfide oxidoreductase DCC family protein</text>
<rect x="333.60" y="400.08" width="31.90" height="12.08" fill="#f0a0a7" />
<rect x="365.00" y="400.08" width="30.90" height="12.08" fill="#f4c5ca" />
<line x1="395.90" y1="405.62" x2="398.90" y2="405.62" stroke="#444" stroke-width="0.8" />
<text x="400.50" y="408.92" font-size="9.45" fill="#111" stroke="#111" stroke-width="0.22" text-anchor="start" font-weight="normal" >Two-component system response regulator VraR</text>
<rect x="333.60" y="411.16" width="31.90" height="12.08" fill="#ee8088" />
<rect x="365.00" y="411.16" width="30.90" height="12.08" fill="#f09aa1" />
<line x1="395.90" y1="416.70" x2="398.90" y2="416.70" stroke="#444" stroke-width="0.8" />
<text x="400.50" y="420.00" font-size="9.45" fill="#111" stroke="#111" stroke-width="0.22" text-anchor="start" font-weight="normal" >Type II toxin-antitoxin system PemK/MazF family toxin</text>
<rect x="333.60" y="422.24" width="31.90" height="12.08" fill="#f2b0b6" />
<rect x="365.00" y="422.24" width="30.90" height="12.08" fill="#f5d5d9" />
<line x1="395.90" y1="427.78" x2="398.90" y2="427.78" stroke="#444" stroke-width="0.8" />
<text x="400.50" y="431.08" font-size="9.45" fill="#111" stroke="#111" stroke-width="0.22" text-anchor="start" font-weight="normal" >YehR family lipoprotein</text>
<rect x="333.60" y="433.32" width="31.90" height="12.08" fill="#b0b0fe" />
<rect x="365.00" y="433.32" width="30.90" height="12.08" fill="#d8d8fc" />
<line x1="395.90" y1="438.86" x2="398.90" y2="438.86" stroke="#444" stroke-width="0.8" />
<text x="400.50" y="442.16" font-size="9.45" fill="#111" stroke="#111" stroke-width="0.22" text-anchor="start" font-weight="normal" >6-phospho-N-acetylmuramidase</text>
<rect x="333.60" y="444.40" width="31.90" height="12.08" fill="#b0b0fe" />
<rect x="365.00" y="444.40" width="30.90" height="12.08" fill="#d8d8fc" />
<line x1="395.90" y1="449.94" x2="398.90" y2="449.94" stroke="#444" stroke-width="0.8" />
<text x="400.50" y="453.24" font-size="9.45" fill="#111" stroke="#111" stroke-width="0.22" text-anchor="start" font-weight="normal" >Amino acid permease</text>
<rect x="333.60" y="455.48" width="31.90" height="12.08" fill="#a8a8fe" />
<rect x="365.00" y="455.48" width="30.90" height="12.08" fill="#d4d4fc" />
<line x1="395.90" y1="461.02" x2="398.90" y2="461.02" stroke="#444" stroke-width="0.8" />
<text x="400.50" y="464.32" font-size="9.45" fill="#111" stroke="#111" stroke-width="0.22" text-anchor="start" font-weight="normal" >Glyceraldehyde-3-phosphate dehydrogenase</text>
<rect x="333.60" y="466.56" width="31.90" height="12.08" fill="#c8c8fc" />
<rect x="365.00" y="466.56" width="30.90" height="12.08" fill="#dcdcfc" />
<line x1="395.90" y1="472.10" x2="398.90" y2="472.10" stroke="#444" stroke-width="0.8" />
<text x="400.50" y="475.40" font-size="9.45" fill="#111" stroke="#111" stroke-width="0.22" text-anchor="start" font-weight="normal" >L-lactate dehydrogenase</text>
<rect x="333.60" y="477.64" width="31.90" height="12.08" fill="#d0d0fc" />
<rect x="365.00" y="477.64" width="30.90" height="12.08" fill="#e0e0fc" />
<line x1="395.90" y1="483.18" x2="398.90" y2="483.18" stroke="#444" stroke-width="0.8" />
<text x="400.50" y="486.48" font-size="9.45" fill="#111" stroke="#111" stroke-width="0.22" text-anchor="start" font-weight="normal" >Membrane protein;</text>
<rect x="333.60" y="488.72" width="31.90" height="12.08" fill="#d0d0fc" />
<rect x="365.00" y="488.72" width="30.90" height="12.08" fill="#d8d8fc" />
<line x1="395.90" y1="494.26" x2="398.90" y2="494.26" stroke="#444" stroke-width="0.8" />
<text x="400.50" y="497.56" font-size="9.45" fill="#111" stroke="#111" stroke-width="0.22" text-anchor="start" font-weight="normal" >MFS transporter</text>
<rect x="333.60" y="499.80" width="31.90" height="12.08" fill="#c0c0fc" />
<rect x="365.00" y="499.80" width="30.90" height="12.08" fill="#e0e0fc" />
<line x1="395.90" y1="505.34" x2="398.90" y2="505.34" stroke="#444" stroke-width="0.8" />
<text x="400.50" y="508.64" font-size="9.45" fill="#111" stroke="#111" stroke-width="0.22" text-anchor="start" font-weight="normal" >Proline dehydrogenase</text>
<rect x="333.60" y="510.88" width="31.90" height="12.08" fill="#d0d0fc" />
<rect x="365.00" y="510.88" width="30.90" height="12.08" fill="#e0e0fc" />
<line x1="395.90" y1="516.42" x2="398.90" y2="516.42" stroke="#444" stroke-width="0.8" />
<text x="400.50" y="519.72" font-size="9.45" fill="#111" stroke="#111" stroke-width="0.22" text-anchor="start" font-weight="normal" >Sn-glycerol-3-phosphate ABC transporter ATP-binding protein UgpC</text>
<rect x="333.60" y="521.96" width="31.90" height="12.08" fill="#c8c8fc" />
<rect x="365.00" y="521.96" width="30.90" height="12.08" fill="#dcdcfc" />
<line x1="395.90" y1="527.50" x2="398.90" y2="527.50" stroke="#444" stroke-width="0.8" />
<text x="400.50" y="530.80" font-size="9.45" fill="#111" stroke="#111" stroke-width="0.22" text-anchor="start" font-weight="normal" >Sodium:solute symporter</text>
<rect x="333.60" y="533.04" width="31.90" height="12.08" fill="#c8c8fc" />
<rect x="365.00" y="533.04" width="30.90" height="12.08" fill="#e0e0fc" />
<line x1="395.90" y1="538.58" x2="398.90" y2="538.58" stroke="#444" stroke-width="0.8" />
<text x="400.50" y="541.88" font-size="9.45" fill="#111" stroke="#111" stroke-width="0.22" text-anchor="start" font-weight="normal" >Sugar ABC transporter permease</text>
<rect x="333.60" y="544.12" width="31.90" height="11.08" fill="#ccccfc" />
<rect x="365.00" y="544.12" width="30.90" height="11.08" fill="#e0e0fc" />
<line x1="395.90" y1="549.66" x2="398.90" y2="549.66" stroke="#444" stroke-width="0.8" />
<text x="400.50" y="552.96" font-size="9.45" fill="#111" stroke="#111" stroke-width="0.22" text-anchor="start" font-weight="normal" >Sugar phosphate isomerase/epimerase</text>
<rect x="333.6" y="222.8" width="62.299999999999955" height="332.40000000000003" fill="none" stroke="#8a8a8a" stroke-width="0.9" rx="1"/>
<line x1="282.55" y1="554.60" x2="282.55" y2="557.60" stroke="#444" stroke-width="0.8" />
<line x1="313.60" y1="554.60" x2="313.60" y2="557.60" stroke="#444" stroke-width="0.8" />
<line x1="349.30" y1="555.20" x2="349.30" y2="558.20" stroke="#444" stroke-width="0.8" />
<line x1="380.45" y1="555.20" x2="380.45" y2="558.20" stroke="#444" stroke-width="0.8" />
<text x="282.55" y="567.40" font-size="9" fill="#111" stroke="#111" stroke-width="0.22" text-anchor="middle" font-weight="normal" >4×MIC</text>
<text x="313.60" y="567.40" font-size="9" fill="#111" stroke="#111" stroke-width="0.22" text-anchor="middle" font-weight="normal" >2×MIC</text>
<text x="349.30" y="567.40" font-size="9" fill="#111" stroke="#111" stroke-width="0.22" text-anchor="middle" font-weight="normal" >4×MIC</text>
<text x="380.45" y="567.40" font-size="9" fill="#111" stroke="#111" stroke-width="0.22" text-anchor="middle" font-weight="normal" >2×MIC</text>
<defs><linearGradient id="cbar" x1="0" x2="1"><stop offset="0" stop-color="#4c4cff"/><stop offset="0.5" stop-color="#ffffff"/><stop offset="1" stop-color="#ee3a3a"/></linearGradient></defs>
<rect x="600.8" y="538.4" width="71.1" height="11.9" fill="url(#cbar)" stroke="#111" stroke-width="0.9"/>
<line x1="636.35" y1="538.40" x2="636.35" y2="540.40" stroke="#111" stroke-width="0.8" />
<line x1="636.35" y1="548.30" x2="636.35" y2="550.30" stroke="#111" stroke-width="0.8" />
<text x="600.80" y="536.30" font-size="9" fill="#111" stroke="#111" stroke-width="0.22" text-anchor="middle" font-weight="normal" >-6</text>
<text x="636.35" y="536.30" font-size="9" fill="#111" stroke="#111" stroke-width="0.22" text-anchor="middle" font-weight="normal" >0</text>
<text x="671.90" y="536.30" font-size="9" fill="#111" stroke="#111" stroke-width="0.22" text-anchor="middle" font-weight="normal" >6</text>
<text x="636.3" y="560.6" font-size="9.35" fill="#111" stroke="#111" stroke-width="0.22" text-anchor="middle">Log<tspan font-size="6.5" dy="2">2</tspan><tspan dy="-2">FoldChange</tspan></text>
<rect x="11.90" y="616.80" width="282.10" height="44.40" fill="#e9f0fb" />
<rect x="11.90" y="661.20" width="282.10" height="118.40" fill="#f7e8e9" />
<rect x="11.90" y="779.60" width="282.10" height="74.00" fill="#edf9ec" />
<line x1="290.80" y1="624.20" x2="294.00" y2="624.20" stroke="#333" stroke-width="0.8" />
<text x="287.60" y="627.00" font-size="10.75" fill="#111" stroke="#111" stroke-width="0.12" text-anchor="end" font-weight="normal" >Lipoteichoic acid biosynthetic process</text>
<rect x="294.00" y="617.70" width="2.82" height="6.00" fill="#89a9d4" stroke="#789bcf" stroke-width="0.5"/>
<text transform="translate(298.12,623.10) scale(0.93,1)" font-size="8" fill="#222" stroke="#222" stroke-width="0.22" text-anchor="start">4</text>
<line x1="290.80" y1="639.00" x2="294.00" y2="639.00" stroke="#333" stroke-width="0.8" />
<text x="287.60" y="641.80" font-size="10.75" fill="#111" stroke="#111" stroke-width="0.12" text-anchor="end" font-weight="normal" >Regulation of DNA-templated transcription</text>
<rect x="294.00" y="632.50" width="7.74" height="6.00" fill="#89a9d4" stroke="#789bcf" stroke-width="0.5"/>
<text transform="translate(303.04,637.90) scale(0.93,1)" font-size="8" fill="#222" stroke="#222" stroke-width="0.22" text-anchor="start">11</text>
<line x1="290.80" y1="653.80" x2="294.00" y2="653.80" stroke="#333" stroke-width="0.8" />
<text x="287.60" y="656.60" font-size="10.75" fill="#111" stroke="#111" stroke-width="0.12" text-anchor="end" font-weight="normal" >Ion transport</text>
<rect x="294.00" y="647.30" width="2.82" height="6.00" fill="#89a9d4" stroke="#789bcf" stroke-width="0.5"/>
<text transform="translate(298.12,652.70) scale(0.93,1)" font-size="8" fill="#222" stroke="#222" stroke-width="0.22" text-anchor="start">4</text>
<rect x="294.00" y="654.40" width="4.93" height="6.00" fill="#f3989f" stroke="#ee8c95" stroke-width="0.5"/>
<text transform="translate(300.23,659.50) scale(0.93,1)" font-size="8" fill="#222" stroke="#222" stroke-width="0.22" text-anchor="start">7</text>
<line x1="290.80" y1="668.60" x2="294.00" y2="668.60" stroke="#333" stroke-width="0.8" />
<text x="287.60" y="671.40" font-size="10.75" fill="#111" stroke="#111" stroke-width="0.12" text-anchor="end" font-weight="normal" >Plasma membrane</text>
<rect x="294.00" y="662.10" width="43.65" height="6.00" fill="#89a9d4" stroke="#789bcf" stroke-width="0.5"/>
<text transform="translate(338.95,667.50) scale(0.93,1)" font-size="8" fill="#222" stroke="#222" stroke-width="0.22" text-anchor="start">62</text>
<rect x="294.00" y="669.20" width="120.38" height="6.00" fill="#f3989f" stroke="#ee8c95" stroke-width="0.5"/>
<text transform="translate(415.68,674.30) scale(0.93,1)" font-size="8" fill="#222" stroke="#222" stroke-width="0.22" text-anchor="start">171</text>
<line x1="290.80" y1="683.40" x2="294.00" y2="683.40" stroke="#333" stroke-width="0.8" />
<text x="287.60" y="686.20" font-size="10.75" fill="#111" stroke="#111" stroke-width="0.12" text-anchor="end" font-weight="normal" >Extracellular region</text>
<rect x="294.00" y="676.90" width="11.26" height="6.00" fill="#89a9d4" stroke="#789bcf" stroke-width="0.5"/>
<text transform="translate(306.56,682.30) scale(0.93,1)" font-size="8" fill="#222" stroke="#222" stroke-width="0.22" text-anchor="start">16</text>
<rect x="294.00" y="684.00" width="27.46" height="6.00" fill="#f3989f" stroke="#ee8c95" stroke-width="0.5"/>
<text transform="translate(322.76,689.10) scale(0.93,1)" font-size="8" fill="#222" stroke="#222" stroke-width="0.22" text-anchor="start">39</text>
<line x1="290.80" y1="698.20" x2="294.00" y2="698.20" stroke="#333" stroke-width="0.8" />
<text x="287.60" y="701.00" font-size="10.75" fill="#111" stroke="#111" stroke-width="0.12" text-anchor="end" font-weight="normal" >Protein-DNA complex</text>
<rect x="294.00" y="691.70" width="2.11" height="6.00" fill="#89a9d4" stroke="#789bcf" stroke-width="0.5"/>
<text transform="translate(297.41,697.10) scale(0.93,1)" font-size="8" fill="#222" stroke="#222" stroke-width="0.22" text-anchor="start">3</text>
<rect x="294.00" y="698.80" width="2.82" height="6.00" fill="#f3989f" stroke="#ee8c95" stroke-width="0.5"/>
<text transform="translate(298.12,703.90) scale(0.93,1)" font-size="8" fill="#222" stroke="#222" stroke-width="0.22" text-anchor="start">4</text>
<line x1="290.80" y1="713.00" x2="294.00" y2="713.00" stroke="#333" stroke-width="0.8" />
<text x="287.60" y="715.80" font-size="10.75" fill="#111" stroke="#111" stroke-width="0.12" text-anchor="end" font-weight="normal" >Ribonucleoprotein complex</text>
<rect x="294.00" y="706.50" width="4.93" height="6.00" fill="#89a9d4" stroke="#789bcf" stroke-width="0.5"/>
<text transform="translate(300.23,711.90) scale(0.93,1)" font-size="8" fill="#222" stroke="#222" stroke-width="0.22" text-anchor="start">7</text>
<line x1="290.80" y1="727.80" x2="294.00" y2="727.80" stroke="#333" stroke-width="0.8" />
<text x="287.60" y="730.60" font-size="10.75" fill="#111" stroke="#111" stroke-width="0.12" text-anchor="end" font-weight="normal" >Membrane raft</text>
<rect x="294.00" y="721.30" width="2.82" height="6.00" fill="#89a9d4" stroke="#789bcf" stroke-width="0.5"/>
<text transform="translate(298.12,726.70) scale(0.93,1)" font-size="8" fill="#222" stroke="#222" stroke-width="0.22" text-anchor="start">4</text>
<rect x="294.00" y="728.40" width="6.34" height="6.00" fill="#f3989f" stroke="#ee8c95" stroke-width="0.5"/>
<text transform="translate(301.64,733.50) scale(0.93,1)" font-size="8" fill="#222" stroke="#222" stroke-width="0.22" text-anchor="start">9</text>
<line x1="290.80" y1="742.60" x2="294.00" y2="742.60" stroke="#333" stroke-width="0.8" />
<text x="287.60" y="745.40" font-size="10.75" fill="#111" stroke="#111" stroke-width="0.12" text-anchor="end" font-weight="normal" >Outer membrane-bounded periplasmic space</text>
<rect x="294.00" y="736.10" width="2.82" height="6.00" fill="#89a9d4" stroke="#789bcf" stroke-width="0.5"/>
<text transform="translate(298.12,741.50) scale(0.93,1)" font-size="8" fill="#222" stroke="#222" stroke-width="0.22" text-anchor="start">4</text>
<rect x="294.00" y="743.20" width="4.93" height="6.00" fill="#f3989f" stroke="#ee8c95" stroke-width="0.5"/>
<text transform="translate(300.23,748.30) scale(0.93,1)" font-size="8" fill="#222" stroke="#222" stroke-width="0.22" text-anchor="start">7</text>
<line x1="290.80" y1="757.40" x2="294.00" y2="757.40" stroke="#333" stroke-width="0.8" />
<text x="287.60" y="760.20" font-size="10.75" fill="#111" stroke="#111" stroke-width="0.12" text-anchor="end" font-weight="normal" >ATP-binding cassette (ABC) transporter complex</text>
<rect x="294.00" y="750.90" width="0.70" height="6.00" fill="#89a9d4" stroke="#789bcf" stroke-width="0.5"/>
<text transform="translate(296.00,756.30) scale(0.93,1)" font-size="8" fill="#222" stroke="#222" stroke-width="0.22" text-anchor="start">1</text>
<rect x="294.00" y="758.00" width="9.86" height="6.00" fill="#f3989f" stroke="#ee8c95" stroke-width="0.5"/>
<text transform="translate(305.16,763.10) scale(0.93,1)" font-size="8" fill="#222" stroke="#222" stroke-width="0.22" text-anchor="start">14</text>
<line x1="290.80" y1="772.20" x2="294.00" y2="772.20" stroke="#333" stroke-width="0.8" />
<text x="287.60" y="775.00" font-size="10.75" fill="#111" stroke="#111" stroke-width="0.12" text-anchor="end" font-weight="normal" >Proton-transporting ATP synthase complex</text>
<rect x="294.00" y="772.80" width="3.52" height="6.00" fill="#f3989f" stroke="#ee8c95" stroke-width="0.5"/>
<text transform="translate(298.82,777.90) scale(0.93,1)" font-size="8" fill="#222" stroke="#222" stroke-width="0.22" text-anchor="start">5</text>
<line x1="290.80" y1="787.00" x2="294.00" y2="787.00" stroke="#333" stroke-width="0.8" />
<text x="287.60" y="789.80" font-size="10.75" fill="#111" stroke="#111" stroke-width="0.12" text-anchor="end" font-weight="normal" >DNA-binding transcription factor activity</text>
<rect x="294.00" y="780.50" width="7.74" height="6.00" fill="#89a9d4" stroke="#789bcf" stroke-width="0.5"/>
<text transform="translate(303.04,785.90) scale(0.93,1)" font-size="8" fill="#222" stroke="#222" stroke-width="0.22" text-anchor="start">11</text>
<rect x="294.00" y="787.60" width="18.30" height="6.00" fill="#f3989f" stroke="#ee8c95" stroke-width="0.5"/>
<text transform="translate(313.60,792.70) scale(0.93,1)" font-size="8" fill="#222" stroke="#222" stroke-width="0.22" text-anchor="start">26</text>
<line x1="290.80" y1="801.80" x2="294.00" y2="801.80" stroke="#333" stroke-width="0.8" />
<text x="287.60" y="804.60" font-size="10.75" fill="#111" stroke="#111" stroke-width="0.12" text-anchor="end" font-weight="normal" >N-acetylmuramoyl-L-alanine amidase activity</text>
<rect x="294.00" y="802.40" width="4.22" height="6.00" fill="#f3989f" stroke="#ee8c95" stroke-width="0.5"/>
<text transform="translate(299.52,807.50) scale(0.93,1)" font-size="8" fill="#222" stroke="#222" stroke-width="0.22" text-anchor="start">6</text>
<line x1="290.80" y1="816.60" x2="294.00" y2="816.60" stroke="#333" stroke-width="0.8" />
<text x="287.60" y="819.40" font-size="10.75" fill="#111" stroke="#111" stroke-width="0.12" text-anchor="end" font-weight="normal" >NAD binding</text>
<rect x="294.00" y="817.20" width="7.74" height="6.00" fill="#f3989f" stroke="#ee8c95" stroke-width="0.5"/>
<text transform="translate(303.04,822.30) scale(0.93,1)" font-size="8" fill="#222" stroke="#222" stroke-width="0.22" text-anchor="start">11</text>
<line x1="290.80" y1="831.40" x2="294.00" y2="831.40" stroke="#333" stroke-width="0.8" />
<text x="287.60" y="834.20" font-size="10.75" fill="#111" stroke="#111" stroke-width="0.12" text-anchor="end" font-weight="normal" >Transmembrane transporter activity</text>
<rect x="294.00" y="832.00" width="15.49" height="6.00" fill="#f3989f" stroke="#ee8c95" stroke-width="0.5"/>
<text transform="translate(310.79,837.10) scale(0.93,1)" font-size="8" fill="#222" stroke="#222" stroke-width="0.22" text-anchor="start">22</text>
<line x1="290.80" y1="846.20" x2="294.00" y2="846.20" stroke="#333" stroke-width="0.8" />
<text x="287.60" y="849.00" font-size="10.75" fill="#111" stroke="#111" stroke-width="0.12" text-anchor="end" font-weight="normal" >Proton-transporting ATP synthase activity</text>
<rect x="294.00" y="846.80" width="5.63" height="6.00" fill="#f3989f" stroke="#ee8c95" stroke-width="0.5"/>
<text transform="translate(300.93,851.90) scale(0.93,1)" font-size="8" fill="#222" stroke="#222" stroke-width="0.22" text-anchor="start">8</text>
<line x1="294.00" y1="613.00" x2="294.00" y2="853.60" stroke="#333" stroke-width="1" />
<line x1="294.00" y1="853.60" x2="435.00" y2="853.60" stroke="#333" stroke-width="1" />
<line x1="294.00" y1="853.60" x2="294.00" y2="857.10" stroke="#333" stroke-width="0.9" />
<text x="294.00" y="867.60" font-size="10.4" fill="#111" stroke="#111" stroke-width="0.12" text-anchor="middle" font-weight="normal" >0</text>
<line x1="329.20" y1="853.60" x2="329.20" y2="857.10" stroke="#333" stroke-width="0.9" />
<text x="329.20" y="867.60" font-size="10.4" fill="#111" stroke="#111" stroke-width="0.12" text-anchor="middle" font-weight="normal" >50</text>
<line x1="364.40" y1="853.60" x2="364.40" y2="857.10" stroke="#333" stroke-width="0.9" />
<text x="364.40" y="867.60" font-size="10.4" fill="#111" stroke="#111" stroke-width="0.12" text-anchor="middle" font-weight="normal" >100</text>
<line x1="399.60" y1="853.60" x2="399.60" y2="857.10" stroke="#333" stroke-width="0.9" />
<text x="399.60" y="867.60" font-size="10.4" fill="#111" stroke="#111" stroke-width="0.12" text-anchor="middle" font-weight="normal" >150</text>
<line x1="434.80" y1="853.60" x2="434.80" y2="857.10" stroke="#333" stroke-width="0.9" />
<text x="434.80" y="867.60" font-size="10.4" fill="#111" stroke="#111" stroke-width="0.12" text-anchor="middle" font-weight="normal" >200</text>
<line x1="311.60" y1="853.60" x2="311.60" y2="855.60" stroke="#333" stroke-width="0.9" />
<line x1="346.80" y1="853.60" x2="346.80" y2="855.60" stroke="#333" stroke-width="0.9" />
<line x1="382.00" y1="853.60" x2="382.00" y2="855.60" stroke="#333" stroke-width="0.9" />
<line x1="417.20" y1="853.60" x2="417.20" y2="855.60" stroke="#333" stroke-width="0.9" />
<text x="363.50" y="880.20" font-size="10.4" fill="#111" stroke="#111" stroke-width="0.12" text-anchor="middle" font-weight="normal" >Gene number</text>
<text x="364.50" y="605.00" font-size="12" fill="#111" stroke="#111" stroke-width="0.12" text-anchor="middle" font-weight="normal" >Top 30 GO term</text>
<rect x="342.90" y="620.30" width="11.00" height="6.40" fill="#f3989f" stroke="#ee8c95" stroke-width="0.5"/>
<rect x="342.90" y="635.10" width="11.00" height="5.60" fill="#89a9d4" stroke="#789bcf" stroke-width="0.5"/>
<text x="358.60" y="626.60" font-size="9.35" fill="#222" stroke="#222" stroke-width="0.22" text-anchor="start" font-weight="normal" >4×MIC vs Control</text>
<text x="358.60" y="641.40" font-size="9.35" fill="#222" stroke="#222" stroke-width="0.22" text-anchor="start" font-weight="normal" >2×MIC vs Control</text>
<text x="38.30" y="637.00" font-size="10.1" fill="#3b6fd6" stroke="#3b6fd6" stroke-width="0.12" text-anchor="middle" font-weight="normal" >Biological</text>
<text x="38.30" y="648.60" font-size="10.1" fill="#3b6fd6" stroke="#3b6fd6" stroke-width="0.12" text-anchor="middle" font-weight="normal" >process</text>
<text x="38.30" y="732.40" font-size="10.1" fill="#b42b2b" stroke="#b42b2b" stroke-width="0.12" text-anchor="middle" font-weight="normal" >Cellular</text>
<text x="38.30" y="744.20" font-size="10.1" fill="#b42b2b" stroke="#b42b2b" stroke-width="0.12" text-anchor="middle" font-weight="normal" >component</text>
<text x="38.30" y="818.80" font-size="10.1" fill="#47847f" stroke="#47847f" stroke-width="0.12" text-anchor="middle" font-weight="normal" >Molecular</text>
<text x="38.30" y="830.40" font-size="10.1" fill="#47847f" stroke="#47847f" stroke-width="0.12" text-anchor="middle" font-weight="normal" >function</text>
<line x1="485.20" y1="613.30" x2="485.20" y2="750.20" stroke="#333" stroke-width="1" />
<line x1="485.20" y1="750.20" x2="675.40" y2="750.20" stroke="#333" stroke-width="1" />
<line x1="481.30" y1="750.20" x2="485.20" y2="750.20" stroke="#333" stroke-width="0.9" />
<text x="479.60" y="754.20" font-size="11" fill="#111" stroke="#111" stroke-width="0.12" text-anchor="end" font-weight="normal" >0</text>
<line x1="481.30" y1="722.82" x2="485.20" y2="722.82" stroke="#333" stroke-width="0.9" />
<text x="479.60" y="726.82" font-size="11" fill="#111" stroke="#111" stroke-width="0.12" text-anchor="end" font-weight="normal" >20</text>
<line x1="481.30" y1="695.44" x2="485.20" y2="695.44" stroke="#333" stroke-width="0.9" />
<text x="479.60" y="699.44" font-size="11" fill="#111" stroke="#111" stroke-width="0.12" text-anchor="end" font-weight="normal" >40</text>
<line x1="481.30" y1="668.06" x2="485.20" y2="668.06" stroke="#333" stroke-width="0.9" />
<text x="479.60" y="672.06" font-size="11" fill="#111" stroke="#111" stroke-width="0.12" text-anchor="end" font-weight="normal" >60</text>
<line x1="481.30" y1="640.68" x2="485.20" y2="640.68" stroke="#333" stroke-width="0.9" />
<text x="479.60" y="644.68" font-size="11" fill="#111" stroke="#111" stroke-width="0.12" text-anchor="end" font-weight="normal" >80</text>
<line x1="481.30" y1="613.30" x2="485.20" y2="613.30" stroke="#333" stroke-width="0.9" />
<text x="479.60" y="617.30" font-size="11" fill="#111" stroke="#111" stroke-width="0.12" text-anchor="end" font-weight="normal" >100</text>
<line x1="492.60" y1="750.20" x2="492.60" y2="753.40" stroke="#333" stroke-width="0.9" />
<rect x="485.60" y="698.60" width="7.00" height="51.60" fill="#f3989f" stroke="#ee8c95" stroke-width="0.5"/>
<text transform="translate(489.10,695.30) scale(0.85,1)" font-size="8.4" fill="#222" stroke="#222" stroke-width="0.22" text-anchor="middle">38</text>
<rect x="492.60" y="725.76" width="7.00" height="24.44" fill="#89a9d4" stroke="#789bcf" stroke-width="0.5"/>
<text transform="translate(496.10,722.46) scale(0.85,1)" font-size="8.4" fill="#222" stroke="#222" stroke-width="0.22" text-anchor="middle">18</text>
<text transform="translate(496.60,754.80) rotate(-90)" font-size="11.3" fill="#111" stroke="#111" stroke-width="0.12" text-anchor="end">Membrane transport</text>
<line x1="508.23" y1="750.20" x2="508.23" y2="753.40" stroke="#333" stroke-width="0.9" />
<rect x="501.23" y="742.05" width="7.00" height="8.15" fill="#f3989f" stroke="#ee8c95" stroke-width="0.5"/>
<text transform="translate(504.73,738.75) scale(0.85,1)" font-size="8.4" fill="#222" stroke="#222" stroke-width="0.22" text-anchor="middle">6</text>
<rect x="508.23" y="735.26" width="7.00" height="14.94" fill="#89a9d4" stroke="#789bcf" stroke-width="0.5"/>
<text transform="translate(511.73,731.96) scale(0.85,1)" font-size="8.4" fill="#222" stroke="#222" stroke-width="0.22" text-anchor="middle">11</text>
<text transform="translate(512.23,754.80) rotate(-90)" font-size="11.3" fill="#111" stroke="#111" stroke-width="0.12" text-anchor="end">Signal transduction</text>
<line x1="523.86" y1="750.20" x2="523.86" y2="753.40" stroke="#333" stroke-width="0.9" />
<rect x="523.86" y="744.77" width="7.00" height="5.43" fill="#89a9d4" stroke="#789bcf" stroke-width="0.5"/>
<text transform="translate(527.36,741.47) scale(0.85,1)" font-size="8.4" fill="#222" stroke="#222" stroke-width="0.22" text-anchor="middle">4</text>
<text transform="translate(527.86,754.80) rotate(-90)" font-size="11.3" fill="#111" stroke="#111" stroke-width="0.12" text-anchor="end">Folding, sorting and degradation</text>
<line x1="539.49" y1="750.20" x2="539.49" y2="753.40" stroke="#333" stroke-width="0.9" />
<rect x="539.49" y="740.69" width="7.00" height="9.51" fill="#89a9d4" stroke="#789bcf" stroke-width="0.5"/>
<text transform="translate(542.99,737.39) scale(0.85,1)" font-size="8.4" fill="#222" stroke="#222" stroke-width="0.22" text-anchor="middle">7</text>
<text transform="translate(543.49,754.80) rotate(-90)" font-size="11.3" fill="#111" stroke="#111" stroke-width="0.12" text-anchor="end">Translation</text>
<line x1="555.12" y1="750.20" x2="555.12" y2="753.40" stroke="#333" stroke-width="0.9" />
<rect x="548.12" y="733.90" width="7.00" height="16.30" fill="#f3989f" stroke="#ee8c95" stroke-width="0.5"/>
<text transform="translate(551.62,730.60) scale(0.85,1)" font-size="8.4" fill="#222" stroke="#222" stroke-width="0.22" text-anchor="middle">12</text>
<rect x="555.12" y="744.77" width="7.00" height="5.43" fill="#89a9d4" stroke="#789bcf" stroke-width="0.5"/>
<text transform="translate(558.62,741.47) scale(0.85,1)" font-size="8.4" fill="#222" stroke="#222" stroke-width="0.22" text-anchor="middle">4</text>
<text transform="translate(559.12,754.80) rotate(-90)" font-size="11.3" fill="#111" stroke="#111" stroke-width="0.12" text-anchor="end">Metabolism of cofactors and vitamins</text>
<line x1="570.75" y1="750.20" x2="570.75" y2="753.40" stroke="#333" stroke-width="0.9" />
<rect x="563.75" y="740.69" width="7.00" height="9.51" fill="#f3989f" stroke="#ee8c95" stroke-width="0.5"/>
<text transform="translate(567.25,737.39) scale(0.85,1)" font-size="8.4" fill="#222" stroke="#222" stroke-width="0.22" text-anchor="middle">7</text>
<rect x="570.75" y="742.05" width="7.00" height="8.15" fill="#89a9d4" stroke="#789bcf" stroke-width="0.5"/>
<text transform="translate(574.25,738.75) scale(0.85,1)" font-size="8.4" fill="#222" stroke="#222" stroke-width="0.22" text-anchor="middle">6</text>
<text transform="translate(574.75,754.80) rotate(-90)" font-size="11.3" fill="#111" stroke="#111" stroke-width="0.12" text-anchor="end">Glycan biosynthesis and metabolism</text>
<line x1="586.38" y1="750.20" x2="586.38" y2="753.40" stroke="#333" stroke-width="0.9" />
<rect x="579.38" y="714.89" width="7.00" height="35.31" fill="#f3989f" stroke="#ee8c95" stroke-width="0.5"/>
<text transform="translate(582.88,711.59) scale(0.85,1)" font-size="8.4" fill="#222" stroke="#222" stroke-width="0.22" text-anchor="middle">26</text>
<rect x="586.38" y="739.34" width="7.00" height="10.86" fill="#89a9d4" stroke="#789bcf" stroke-width="0.5"/>
<text transform="translate(589.88,736.04) scale(0.85,1)" font-size="8.4" fill="#222" stroke="#222" stroke-width="0.22" text-anchor="middle">8</text>
<text transform="translate(590.38,754.80) rotate(-90)" font-size="11.3" fill="#111" stroke="#111" stroke-width="0.12" text-anchor="end">Amino acid metabolism</text>
<line x1="602.01" y1="750.20" x2="602.01" y2="753.40" stroke="#333" stroke-width="0.9" />
<rect x="595.01" y="656.50" width="7.00" height="93.70" fill="#f3989f" stroke="#ee8c95" stroke-width="0.5"/>
<text transform="translate(598.51,653.20) scale(0.85,1)" font-size="8.4" fill="#222" stroke="#222" stroke-width="0.22" text-anchor="middle">69</text>
<rect x="602.01" y="728.47" width="7.00" height="21.73" fill="#89a9d4" stroke="#789bcf" stroke-width="0.5"/>
<text transform="translate(605.51,725.17) scale(0.85,1)" font-size="8.4" fill="#222" stroke="#222" stroke-width="0.22" text-anchor="middle">16</text>
<text transform="translate(606.01,754.80) rotate(-90)" font-size="11.3" fill="#111" stroke="#111" stroke-width="0.12" text-anchor="end">Carbohydrate metabolism</text>
<line x1="617.64" y1="750.20" x2="617.64" y2="753.40" stroke="#333" stroke-width="0.9" />
<rect x="610.64" y="695.88" width="7.00" height="54.32" fill="#f3989f" stroke="#ee8c95" stroke-width="0.5"/>
<text transform="translate(614.14,692.58) scale(0.85,1)" font-size="8.4" fill="#222" stroke="#222" stroke-width="0.22" text-anchor="middle">40</text>
<rect x="617.64" y="744.77" width="7.00" height="5.43" fill="#89a9d4" stroke="#789bcf" stroke-width="0.5"/>
<text transform="translate(621.14,741.47) scale(0.85,1)" font-size="8.4" fill="#222" stroke="#222" stroke-width="0.22" text-anchor="middle">4</text>
<text transform="translate(621.64,754.80) rotate(-90)" font-size="11.3" fill="#111" stroke="#111" stroke-width="0.12" text-anchor="end">Energy metabolism</text>
<line x1="633.27" y1="750.20" x2="633.27" y2="753.40" stroke="#333" stroke-width="0.9" />
<rect x="626.27" y="742.05" width="7.00" height="8.15" fill="#f3989f" stroke="#ee8c95" stroke-width="0.5"/>
<text transform="translate(629.77,738.75) scale(0.85,1)" font-size="8.4" fill="#222" stroke="#222" stroke-width="0.22" text-anchor="middle">6</text>
<text transform="translate(637.27,754.80) rotate(-90)" font-size="11.3" fill="#111" stroke="#111" stroke-width="0.12" text-anchor="end">Lipid metabolism</text>
<line x1="648.90" y1="750.20" x2="648.90" y2="753.40" stroke="#333" stroke-width="0.9" />
<rect x="648.90" y="733.90" width="7.00" height="16.30" fill="#89a9d4" stroke="#789bcf" stroke-width="0.5"/>
<text transform="translate(652.40,730.60) scale(0.85,1)" font-size="8.4" fill="#222" stroke="#222" stroke-width="0.22" text-anchor="middle">12</text>
<text transform="translate(652.90,754.80) rotate(-90)" font-size="11.3" fill="#111" stroke="#111" stroke-width="0.12" text-anchor="end">Infectious disease: bacterial</text>
<line x1="664.53" y1="750.20" x2="664.53" y2="753.40" stroke="#333" stroke-width="0.9" />
<rect x="664.53" y="742.05" width="7.00" height="8.15" fill="#89a9d4" stroke="#789bcf" stroke-width="0.5"/>
<text transform="translate(668.03,738.75) scale(0.85,1)" font-size="8.4" fill="#222" stroke="#222" stroke-width="0.22" text-anchor="middle">6</text>
<text transform="translate(668.53,754.80) rotate(-90)" font-size="11.3" fill="#111" stroke="#111" stroke-width="0.12" text-anchor="end">Drug resistance: antimicrobial</text>
<text transform="translate(455.7,679.3) rotate(-90)" font-size="11" fill="#111" stroke="#111" stroke-width="0.12" text-anchor="middle">Gene number</text>
<text x="579.40" y="604.30" font-size="9.95" fill="#111" stroke="#111" stroke-width="0.12" text-anchor="middle" font-weight="normal" >KEGG Pathway Classification</text>
<rect x="499.70" y="617.00" width="9.70" height="7.70" fill="#f3989f" stroke="#ee8c95" stroke-width="0.5"/>
<rect x="499.70" y="633.80" width="9.70" height="7.40" fill="#89a9d4" stroke="#789bcf" stroke-width="0.5"/>
<text x="514.60" y="624.60" font-size="10.1" fill="#111" stroke="#111" stroke-width="0.12" text-anchor="start" font-weight="normal" >4×MIC vs Control</text>
<text x="514.60" y="641.20" font-size="10.1" fill="#111" stroke="#111" stroke-width="0.12" text-anchor="start" font-weight="normal" >2×MIC vs Control</text>
</svg>
</body></html>
